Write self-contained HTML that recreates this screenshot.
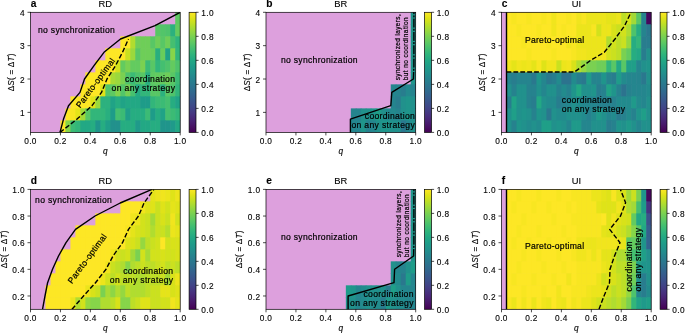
<!DOCTYPE html>
<html><head><meta charset="utf-8"><title>fig</title>
<style>
html,body{margin:0;padding:0;background:#fff;}
body{width:685px;height:333px;overflow:hidden;}
svg{display:block;font-family:"Liberation Sans",sans-serif;will-change:transform;}
text{stroke:#000;stroke-width:0.12px;stroke-linejoin:round;}
.an,.sm{stroke-width:0.2px;}
.tk{font-size:8.3px;letter-spacing:0.35px;fill:#000;}
.ti{font-size:9.4px;fill:#000;}
.lt{font-size:10.2px;font-weight:bold;fill:#000;}
.ql{font-size:8.3px;font-style:italic;fill:#000;}
.yl{font-size:8.2px;fill:#000;letter-spacing:0.2px;}
.it{font-style:italic;}
.an{font-size:8.6px;fill:#000;letter-spacing:0.25px;}
.sm{font-size:6.5px;fill:#000;}
</style></head>
<body>
<svg width="685" height="333" viewBox="0 0 685 333">
<defs><linearGradient id="vg" x1="0" y1="0" x2="0" y2="1"><stop offset="0.00" stop-color="#fde725"/><stop offset="0.05" stop-color="#dfe318"/><stop offset="0.10" stop-color="#bddf26"/><stop offset="0.15" stop-color="#9bd93c"/><stop offset="0.20" stop-color="#7ad151"/><stop offset="0.25" stop-color="#5ec962"/><stop offset="0.30" stop-color="#44bf70"/><stop offset="0.35" stop-color="#2fb47c"/><stop offset="0.40" stop-color="#22a884"/><stop offset="0.45" stop-color="#1e9c89"/><stop offset="0.50" stop-color="#21918c"/><stop offset="0.55" stop-color="#25848e"/><stop offset="0.60" stop-color="#2a788e"/><stop offset="0.65" stop-color="#2f6c8e"/><stop offset="0.70" stop-color="#355f8d"/><stop offset="0.75" stop-color="#3b528b"/><stop offset="0.80" stop-color="#414487"/><stop offset="0.85" stop-color="#463480"/><stop offset="0.90" stop-color="#482475"/><stop offset="0.95" stop-color="#471365"/><stop offset="1.00" stop-color="#440154"/></linearGradient></defs>
<g>
<rect x="30.50" y="12.30" width="149.70" height="120.10" fill="#dda0dd"/>
<rect x="175.21" y="12.30" width="4.99" height="12.61" fill="#5ec962"/>
<rect x="155.25" y="24.31" width="5.59" height="12.61" fill="#58c765"/>
<rect x="160.24" y="24.31" width="5.59" height="12.61" fill="#52c569"/>
<rect x="165.23" y="24.31" width="5.59" height="12.61" fill="#4ec36b"/>
<rect x="170.22" y="24.31" width="5.59" height="12.61" fill="#2cb17e"/>
<rect x="175.21" y="24.31" width="4.99" height="12.61" fill="#63cb5f"/>
<rect x="120.32" y="36.32" width="5.59" height="12.61" fill="#fde725"/>
<rect x="125.31" y="36.32" width="5.59" height="12.61" fill="#fde725"/>
<rect x="130.30" y="36.32" width="5.59" height="12.61" fill="#b0dd2f"/>
<rect x="135.29" y="36.32" width="5.59" height="12.61" fill="#6ece58"/>
<rect x="140.28" y="36.32" width="5.59" height="12.61" fill="#6ece58"/>
<rect x="145.27" y="36.32" width="5.59" height="12.61" fill="#6ece58"/>
<rect x="150.26" y="36.32" width="5.59" height="12.61" fill="#58c765"/>
<rect x="155.25" y="36.32" width="5.59" height="12.61" fill="#6ece58"/>
<rect x="160.24" y="36.32" width="5.59" height="12.61" fill="#58c765"/>
<rect x="165.23" y="36.32" width="5.59" height="12.61" fill="#6ece58"/>
<rect x="170.22" y="36.32" width="5.59" height="12.61" fill="#44bf70"/>
<rect x="175.21" y="36.32" width="4.99" height="12.61" fill="#2fb47c"/>
<rect x="105.35" y="48.33" width="5.59" height="12.61" fill="#fde725"/>
<rect x="110.34" y="48.33" width="5.59" height="12.61" fill="#fde725"/>
<rect x="115.33" y="48.33" width="5.59" height="12.61" fill="#fde725"/>
<rect x="120.32" y="48.33" width="5.59" height="12.61" fill="#fde725"/>
<rect x="125.31" y="48.33" width="5.59" height="12.61" fill="#cae11f"/>
<rect x="130.30" y="48.33" width="5.59" height="12.61" fill="#9bd93c"/>
<rect x="135.29" y="48.33" width="5.59" height="12.61" fill="#58c765"/>
<rect x="140.28" y="48.33" width="5.59" height="12.61" fill="#6ece58"/>
<rect x="145.27" y="48.33" width="5.59" height="12.61" fill="#6ece58"/>
<rect x="150.26" y="48.33" width="5.59" height="12.61" fill="#69cd5b"/>
<rect x="155.25" y="48.33" width="5.59" height="12.61" fill="#29af7f"/>
<rect x="160.24" y="48.33" width="5.59" height="12.61" fill="#69cd5b"/>
<rect x="165.23" y="48.33" width="5.59" height="12.61" fill="#20a386"/>
<rect x="170.22" y="48.33" width="5.59" height="12.61" fill="#86d549"/>
<rect x="175.21" y="48.33" width="4.99" height="12.61" fill="#32b67a"/>
<rect x="95.37" y="60.34" width="5.59" height="12.61" fill="#fde725"/>
<rect x="100.36" y="60.34" width="5.59" height="12.61" fill="#fde725"/>
<rect x="105.35" y="60.34" width="5.59" height="12.61" fill="#fde725"/>
<rect x="110.34" y="60.34" width="5.59" height="12.61" fill="#fde725"/>
<rect x="115.33" y="60.34" width="5.59" height="12.61" fill="#d2e21b"/>
<rect x="120.32" y="60.34" width="5.59" height="12.61" fill="#63cb5f"/>
<rect x="125.31" y="60.34" width="5.59" height="12.61" fill="#7ad151"/>
<rect x="130.30" y="60.34" width="5.59" height="12.61" fill="#63cb5f"/>
<rect x="135.29" y="60.34" width="5.59" height="12.61" fill="#63cb5f"/>
<rect x="140.28" y="60.34" width="5.59" height="12.61" fill="#7ad151"/>
<rect x="145.27" y="60.34" width="5.59" height="12.61" fill="#3bbb75"/>
<rect x="150.26" y="60.34" width="5.59" height="12.61" fill="#58c765"/>
<rect x="155.25" y="60.34" width="5.59" height="12.61" fill="#32b67a"/>
<rect x="160.24" y="60.34" width="5.59" height="12.61" fill="#44bf70"/>
<rect x="165.23" y="60.34" width="5.59" height="12.61" fill="#4ec36b"/>
<rect x="170.22" y="60.34" width="5.59" height="12.61" fill="#63cb5f"/>
<rect x="175.21" y="60.34" width="4.99" height="12.61" fill="#4ec36b"/>
<rect x="85.39" y="72.35" width="5.59" height="12.61" fill="#fde725"/>
<rect x="90.38" y="72.35" width="5.59" height="12.61" fill="#fde725"/>
<rect x="95.37" y="72.35" width="5.59" height="12.61" fill="#fde725"/>
<rect x="100.36" y="72.35" width="5.59" height="12.61" fill="#fde725"/>
<rect x="105.35" y="72.35" width="5.59" height="12.61" fill="#fde725"/>
<rect x="110.34" y="72.35" width="5.59" height="12.61" fill="#a8db34"/>
<rect x="115.33" y="72.35" width="5.59" height="12.61" fill="#9bd93c"/>
<rect x="120.32" y="72.35" width="5.59" height="12.61" fill="#7ad151"/>
<rect x="125.31" y="72.35" width="5.59" height="12.61" fill="#4ec36b"/>
<rect x="130.30" y="72.35" width="5.59" height="12.61" fill="#3bbb75"/>
<rect x="135.29" y="72.35" width="5.59" height="12.61" fill="#4ec36b"/>
<rect x="140.28" y="72.35" width="5.59" height="12.61" fill="#58c765"/>
<rect x="145.27" y="72.35" width="5.59" height="12.61" fill="#29af7f"/>
<rect x="150.26" y="72.35" width="5.59" height="12.61" fill="#5ec962"/>
<rect x="155.25" y="72.35" width="5.59" height="12.61" fill="#63cb5f"/>
<rect x="160.24" y="72.35" width="5.59" height="12.61" fill="#63cb5f"/>
<rect x="165.23" y="72.35" width="5.59" height="12.61" fill="#6ece58"/>
<rect x="170.22" y="72.35" width="5.59" height="12.61" fill="#58c765"/>
<rect x="175.21" y="72.35" width="4.99" height="12.61" fill="#3bbb75"/>
<rect x="80.40" y="84.36" width="5.59" height="12.61" fill="#fde725"/>
<rect x="85.39" y="84.36" width="5.59" height="12.61" fill="#fde725"/>
<rect x="90.38" y="84.36" width="5.59" height="12.61" fill="#fde725"/>
<rect x="95.37" y="84.36" width="5.59" height="12.61" fill="#fde725"/>
<rect x="100.36" y="84.36" width="5.59" height="12.61" fill="#dfe318"/>
<rect x="105.35" y="84.36" width="5.59" height="12.61" fill="#52c569"/>
<rect x="110.34" y="84.36" width="5.59" height="12.61" fill="#5ec962"/>
<rect x="115.33" y="84.36" width="5.59" height="12.61" fill="#81d34d"/>
<rect x="120.32" y="84.36" width="5.59" height="12.61" fill="#52c569"/>
<rect x="125.31" y="84.36" width="5.59" height="12.61" fill="#75d054"/>
<rect x="130.30" y="84.36" width="5.59" height="12.61" fill="#48c16e"/>
<rect x="135.29" y="84.36" width="5.59" height="12.61" fill="#25ab82"/>
<rect x="140.28" y="84.36" width="5.59" height="12.61" fill="#32b67a"/>
<rect x="145.27" y="84.36" width="5.59" height="12.61" fill="#32b67a"/>
<rect x="150.26" y="84.36" width="5.59" height="12.61" fill="#58c765"/>
<rect x="155.25" y="84.36" width="5.59" height="12.61" fill="#58c765"/>
<rect x="160.24" y="84.36" width="5.59" height="12.61" fill="#2cb17e"/>
<rect x="165.23" y="84.36" width="5.59" height="12.61" fill="#58c765"/>
<rect x="170.22" y="84.36" width="5.59" height="12.61" fill="#4ec36b"/>
<rect x="175.21" y="84.36" width="4.99" height="12.61" fill="#32b67a"/>
<rect x="70.42" y="96.37" width="5.59" height="12.61" fill="#fde725"/>
<rect x="75.41" y="96.37" width="5.59" height="12.61" fill="#fde725"/>
<rect x="80.40" y="96.37" width="5.59" height="12.61" fill="#fde725"/>
<rect x="85.39" y="96.37" width="5.59" height="12.61" fill="#fde725"/>
<rect x="90.38" y="96.37" width="5.59" height="12.61" fill="#dfe318"/>
<rect x="95.37" y="96.37" width="5.59" height="12.61" fill="#9bd93c"/>
<rect x="100.36" y="96.37" width="5.59" height="12.61" fill="#2cb17e"/>
<rect x="105.35" y="96.37" width="5.59" height="12.61" fill="#2cb17e"/>
<rect x="110.34" y="96.37" width="5.59" height="12.61" fill="#20a386"/>
<rect x="115.33" y="96.37" width="5.59" height="12.61" fill="#26ad81"/>
<rect x="120.32" y="96.37" width="5.59" height="12.61" fill="#20a386"/>
<rect x="125.31" y="96.37" width="5.59" height="12.61" fill="#22a884"/>
<rect x="130.30" y="96.37" width="5.59" height="12.61" fill="#22a884"/>
<rect x="135.29" y="96.37" width="5.59" height="12.61" fill="#22a884"/>
<rect x="140.28" y="96.37" width="5.59" height="12.61" fill="#1e9c89"/>
<rect x="145.27" y="96.37" width="5.59" height="12.61" fill="#1e9c89"/>
<rect x="150.26" y="96.37" width="5.59" height="12.61" fill="#32b67a"/>
<rect x="155.25" y="96.37" width="5.59" height="12.61" fill="#3bbb75"/>
<rect x="160.24" y="96.37" width="5.59" height="12.61" fill="#3bbb75"/>
<rect x="165.23" y="96.37" width="5.59" height="12.61" fill="#44bf70"/>
<rect x="170.22" y="96.37" width="5.59" height="12.61" fill="#26ad81"/>
<rect x="175.21" y="96.37" width="4.99" height="12.61" fill="#20a386"/>
<rect x="65.43" y="108.38" width="5.59" height="12.61" fill="#fde725"/>
<rect x="70.42" y="108.38" width="5.59" height="12.61" fill="#f8e621"/>
<rect x="75.41" y="108.38" width="5.59" height="12.61" fill="#e5e419"/>
<rect x="80.40" y="108.38" width="5.59" height="12.61" fill="#a2da37"/>
<rect x="85.39" y="108.38" width="5.59" height="12.61" fill="#58c765"/>
<rect x="90.38" y="108.38" width="5.59" height="12.61" fill="#32b67a"/>
<rect x="95.37" y="108.38" width="5.59" height="12.61" fill="#32b67a"/>
<rect x="100.36" y="108.38" width="5.59" height="12.61" fill="#32b67a"/>
<rect x="105.35" y="108.38" width="5.59" height="12.61" fill="#29af7f"/>
<rect x="110.34" y="108.38" width="5.59" height="12.61" fill="#1e9c89"/>
<rect x="115.33" y="108.38" width="5.59" height="12.61" fill="#44bf70"/>
<rect x="120.32" y="108.38" width="5.59" height="12.61" fill="#3bbb75"/>
<rect x="125.31" y="108.38" width="5.59" height="12.61" fill="#1f9f88"/>
<rect x="130.30" y="108.38" width="5.59" height="12.61" fill="#26ad81"/>
<rect x="135.29" y="108.38" width="5.59" height="12.61" fill="#26ad81"/>
<rect x="140.28" y="108.38" width="5.59" height="12.61" fill="#26ad81"/>
<rect x="145.27" y="108.38" width="5.59" height="12.61" fill="#3bbb75"/>
<rect x="150.26" y="108.38" width="5.59" height="12.61" fill="#1e9c89"/>
<rect x="155.25" y="108.38" width="5.59" height="12.61" fill="#26ad81"/>
<rect x="160.24" y="108.38" width="5.59" height="12.61" fill="#20a386"/>
<rect x="165.23" y="108.38" width="5.59" height="12.61" fill="#44bf70"/>
<rect x="170.22" y="108.38" width="5.59" height="12.61" fill="#3bbb75"/>
<rect x="175.21" y="108.38" width="4.99" height="12.61" fill="#32b67a"/>
<rect x="60.44" y="120.39" width="5.59" height="12.01" fill="#fde725"/>
<rect x="65.43" y="120.39" width="5.59" height="12.01" fill="#86d549"/>
<rect x="70.42" y="120.39" width="5.59" height="12.01" fill="#3bbb75"/>
<rect x="75.41" y="120.39" width="5.59" height="12.01" fill="#32b67a"/>
<rect x="80.40" y="120.39" width="5.59" height="12.01" fill="#22a884"/>
<rect x="85.39" y="120.39" width="5.59" height="12.01" fill="#22a884"/>
<rect x="90.38" y="120.39" width="5.59" height="12.01" fill="#26ad81"/>
<rect x="95.37" y="120.39" width="5.59" height="12.01" fill="#1f958b"/>
<rect x="100.36" y="120.39" width="5.59" height="12.01" fill="#26ad81"/>
<rect x="105.35" y="120.39" width="5.59" height="12.01" fill="#1f9f88"/>
<rect x="110.34" y="120.39" width="5.59" height="12.01" fill="#21918c"/>
<rect x="115.33" y="120.39" width="5.59" height="12.01" fill="#21918c"/>
<rect x="120.32" y="120.39" width="5.59" height="12.01" fill="#26ad81"/>
<rect x="125.31" y="120.39" width="5.59" height="12.01" fill="#26ad81"/>
<rect x="130.30" y="120.39" width="5.59" height="12.01" fill="#26ad81"/>
<rect x="135.29" y="120.39" width="5.59" height="12.01" fill="#1f9a8a"/>
<rect x="140.28" y="120.39" width="5.59" height="12.01" fill="#22a884"/>
<rect x="145.27" y="120.39" width="5.59" height="12.01" fill="#22a884"/>
<rect x="150.26" y="120.39" width="5.59" height="12.01" fill="#26ad81"/>
<rect x="155.25" y="120.39" width="5.59" height="12.01" fill="#26ad81"/>
<rect x="160.24" y="120.39" width="5.59" height="12.01" fill="#1f958b"/>
<rect x="165.23" y="120.39" width="5.59" height="12.01" fill="#1f958b"/>
<rect x="170.22" y="120.39" width="5.59" height="12.01" fill="#1f9a8a"/>
<rect x="175.21" y="120.39" width="4.99" height="12.01" fill="#22a884"/>
<clipPath id="clip0"><rect x="30.50" y="12.30" width="149.70" height="120.10"/></clipPath>
<polyline points="60.0,132.4 63.5,119.1 68.5,105.7 80.0,92.4 84.5,79.0 94.0,65.7 104.0,52.3 120.5,39.0 155.0,25.6 180.2,12.3" fill="none" stroke="#000" stroke-width="1.4" stroke-linejoin="round" clip-path="url(#clip0)"/>
<polyline points="60.0,132.4 77.0,119.1 92.0,105.7 101.5,92.4 107.0,79.0 115.5,65.7 122.5,52.3 128.5,39.0" fill="none" stroke="#000" stroke-width="1.4" stroke-dasharray="4.8 2.1" stroke-linejoin="round" clip-path="url(#clip0)"/>
<rect x="30.50" y="12.30" width="149.70" height="120.10" fill="none" stroke="#000" stroke-width="0.7"/>
<line x1="30.50" y1="132.40" x2="30.50" y2="135.40" stroke="#000" stroke-width="0.7"/>
<text x="30.50" y="144.00" class="tk" text-anchor="middle">0.0</text>
<line x1="60.44" y1="132.40" x2="60.44" y2="135.40" stroke="#000" stroke-width="0.7"/>
<text x="60.44" y="144.00" class="tk" text-anchor="middle">0.2</text>
<line x1="90.38" y1="132.40" x2="90.38" y2="135.40" stroke="#000" stroke-width="0.7"/>
<text x="90.38" y="144.00" class="tk" text-anchor="middle">0.4</text>
<line x1="120.32" y1="132.40" x2="120.32" y2="135.40" stroke="#000" stroke-width="0.7"/>
<text x="120.32" y="144.00" class="tk" text-anchor="middle">0.6</text>
<line x1="150.26" y1="132.40" x2="150.26" y2="135.40" stroke="#000" stroke-width="0.7"/>
<text x="150.26" y="144.00" class="tk" text-anchor="middle">0.8</text>
<line x1="180.20" y1="132.40" x2="180.20" y2="135.40" stroke="#000" stroke-width="0.7"/>
<text x="180.20" y="144.00" class="tk" text-anchor="middle">1.0</text>
<line x1="27.50" y1="112.38" x2="30.50" y2="112.38" stroke="#000" stroke-width="0.7"/>
<text x="24.90" y="115.98" class="tk" text-anchor="end">1</text>
<line x1="27.50" y1="79.02" x2="30.50" y2="79.02" stroke="#000" stroke-width="0.7"/>
<text x="24.90" y="82.62" class="tk" text-anchor="end">2</text>
<line x1="27.50" y1="45.66" x2="30.50" y2="45.66" stroke="#000" stroke-width="0.7"/>
<text x="24.90" y="49.26" class="tk" text-anchor="end">3</text>
<line x1="27.50" y1="12.30" x2="30.50" y2="12.30" stroke="#000" stroke-width="0.7"/>
<text x="24.90" y="15.90" class="tk" text-anchor="end">4</text>
<text x="105.35" y="154.10" class="ql" text-anchor="middle">q</text>
<text transform="translate(14.00,72.35) rotate(-90)" class="yl" text-anchor="middle">Δ<tspan class="it">S</tspan>( = Δ<tspan class="it">T</tspan>)</text>
<text x="105.35" y="7.20" class="ti" text-anchor="middle">RD</text>
<text x="30.80" y="7.30" class="lt">a</text>
<text x="38.0" y="32.5" class="an" text-anchor="start" textLength="77.0" lengthAdjust="spacing">no synchronization</text>
<text x="175.2" y="81.5" class="an" text-anchor="end" textLength="50.2" lengthAdjust="spacing">coordination</text>
<text x="175.2" y="90.8" class="an" text-anchor="end" textLength="63.6" lengthAdjust="spacing">on any strategy</text>
<text transform="translate(97.8,84.6) rotate(-53.5)" class="an" text-anchor="middle" textLength="59.4" lengthAdjust="spacing">Pareto-optimal</text>
<rect x="189.10" y="12.30" width="6.9" height="120.10" fill="url(#vg)" stroke="#000" stroke-width="0.7"/>
<line x1="196.00" y1="132.40" x2="198.60" y2="132.40" stroke="#000" stroke-width="0.7"/>
<text x="201.30" y="136.10" class="tk">0.0</text>
<line x1="196.00" y1="108.38" x2="198.60" y2="108.38" stroke="#000" stroke-width="0.7"/>
<text x="201.30" y="112.08" class="tk">0.2</text>
<line x1="196.00" y1="84.36" x2="198.60" y2="84.36" stroke="#000" stroke-width="0.7"/>
<text x="201.30" y="88.06" class="tk">0.4</text>
<line x1="196.00" y1="60.34" x2="198.60" y2="60.34" stroke="#000" stroke-width="0.7"/>
<text x="201.30" y="64.04" class="tk">0.6</text>
<line x1="196.00" y1="36.32" x2="198.60" y2="36.32" stroke="#000" stroke-width="0.7"/>
<text x="201.30" y="40.02" class="tk">0.8</text>
<line x1="196.00" y1="12.30" x2="198.60" y2="12.30" stroke="#000" stroke-width="0.7"/>
<text x="201.30" y="16.00" class="tk">1.0</text>
</g>
<g>
<rect x="266.00" y="12.30" width="149.70" height="120.10" fill="#dda0dd"/>
<rect x="410.71" y="12.30" width="4.99" height="12.61" fill="#1f958b"/>
<rect x="410.71" y="24.31" width="4.99" height="12.61" fill="#1f958b"/>
<rect x="410.71" y="36.32" width="4.99" height="12.61" fill="#1f958b"/>
<rect x="410.71" y="48.33" width="4.99" height="12.61" fill="#1f958b"/>
<rect x="410.71" y="60.34" width="4.99" height="12.61" fill="#1f958b"/>
<rect x="410.71" y="72.35" width="4.99" height="12.61" fill="#1f958b"/>
<rect x="390.75" y="84.36" width="5.59" height="12.61" fill="#24868e"/>
<rect x="395.74" y="84.36" width="5.59" height="12.61" fill="#25848e"/>
<rect x="400.73" y="84.36" width="5.59" height="12.61" fill="#287d8e"/>
<rect x="405.72" y="84.36" width="5.59" height="12.61" fill="#23898e"/>
<rect x="410.71" y="84.36" width="4.99" height="12.61" fill="#25848e"/>
<rect x="390.75" y="96.37" width="5.59" height="12.61" fill="#25848e"/>
<rect x="395.74" y="96.37" width="5.59" height="12.61" fill="#287d8e"/>
<rect x="400.73" y="96.37" width="5.59" height="12.61" fill="#21918c"/>
<rect x="405.72" y="96.37" width="5.59" height="12.61" fill="#1f958b"/>
<rect x="410.71" y="96.37" width="4.99" height="12.61" fill="#21918c"/>
<rect x="350.83" y="108.38" width="5.59" height="12.61" fill="#25848e"/>
<rect x="355.82" y="108.38" width="5.59" height="12.61" fill="#25848e"/>
<rect x="360.81" y="108.38" width="5.59" height="12.61" fill="#21918c"/>
<rect x="365.80" y="108.38" width="5.59" height="12.61" fill="#21918c"/>
<rect x="370.79" y="108.38" width="5.59" height="12.61" fill="#1f958b"/>
<rect x="375.78" y="108.38" width="5.59" height="12.61" fill="#1f9f88"/>
<rect x="380.77" y="108.38" width="5.59" height="12.61" fill="#21918c"/>
<rect x="385.76" y="108.38" width="5.59" height="12.61" fill="#23898e"/>
<rect x="390.75" y="108.38" width="5.59" height="12.61" fill="#23898e"/>
<rect x="395.74" y="108.38" width="5.59" height="12.61" fill="#25848e"/>
<rect x="400.73" y="108.38" width="5.59" height="12.61" fill="#21918c"/>
<rect x="405.72" y="108.38" width="5.59" height="12.61" fill="#1f958b"/>
<rect x="410.71" y="108.38" width="4.99" height="12.61" fill="#21918c"/>
<rect x="350.83" y="120.39" width="5.59" height="12.01" fill="#24868e"/>
<rect x="355.82" y="120.39" width="5.59" height="12.01" fill="#24868e"/>
<rect x="360.81" y="120.39" width="5.59" height="12.01" fill="#1f958b"/>
<rect x="365.80" y="120.39" width="5.59" height="12.01" fill="#26828e"/>
<rect x="370.79" y="120.39" width="5.59" height="12.01" fill="#24868e"/>
<rect x="375.78" y="120.39" width="5.59" height="12.01" fill="#21918c"/>
<rect x="380.77" y="120.39" width="5.59" height="12.01" fill="#1f958b"/>
<rect x="385.76" y="120.39" width="5.59" height="12.01" fill="#1f958b"/>
<rect x="390.75" y="120.39" width="5.59" height="12.01" fill="#21918c"/>
<rect x="395.74" y="120.39" width="5.59" height="12.01" fill="#21918c"/>
<rect x="400.73" y="120.39" width="5.59" height="12.01" fill="#2a788e"/>
<rect x="405.72" y="120.39" width="5.59" height="12.01" fill="#24868e"/>
<rect x="410.71" y="120.39" width="4.99" height="12.01" fill="#21918c"/>
<clipPath id="clip1"><rect x="266.00" y="12.30" width="149.70" height="120.10"/></clipPath>
<polyline points="350.4,133.0 350.4,119.1 390.8,105.7 391.8,92.4 413.4,79.0 413.9,65.7 413.9,12.0" fill="none" stroke="#000" stroke-width="1.4" stroke-linejoin="round" clip-path="url(#clip1)"/>
<rect x="266.00" y="12.30" width="149.70" height="120.10" fill="none" stroke="#000" stroke-width="0.7"/>
<line x1="266.00" y1="132.40" x2="266.00" y2="135.40" stroke="#000" stroke-width="0.7"/>
<text x="266.00" y="144.00" class="tk" text-anchor="middle">0.0</text>
<line x1="295.94" y1="132.40" x2="295.94" y2="135.40" stroke="#000" stroke-width="0.7"/>
<text x="295.94" y="144.00" class="tk" text-anchor="middle">0.2</text>
<line x1="325.88" y1="132.40" x2="325.88" y2="135.40" stroke="#000" stroke-width="0.7"/>
<text x="325.88" y="144.00" class="tk" text-anchor="middle">0.4</text>
<line x1="355.82" y1="132.40" x2="355.82" y2="135.40" stroke="#000" stroke-width="0.7"/>
<text x="355.82" y="144.00" class="tk" text-anchor="middle">0.6</text>
<line x1="385.76" y1="132.40" x2="385.76" y2="135.40" stroke="#000" stroke-width="0.7"/>
<text x="385.76" y="144.00" class="tk" text-anchor="middle">0.8</text>
<line x1="415.70" y1="132.40" x2="415.70" y2="135.40" stroke="#000" stroke-width="0.7"/>
<text x="415.70" y="144.00" class="tk" text-anchor="middle">1.0</text>
<line x1="263.00" y1="112.38" x2="266.00" y2="112.38" stroke="#000" stroke-width="0.7"/>
<text x="260.40" y="115.98" class="tk" text-anchor="end">1</text>
<line x1="263.00" y1="79.02" x2="266.00" y2="79.02" stroke="#000" stroke-width="0.7"/>
<text x="260.40" y="82.62" class="tk" text-anchor="end">2</text>
<line x1="263.00" y1="45.66" x2="266.00" y2="45.66" stroke="#000" stroke-width="0.7"/>
<text x="260.40" y="49.26" class="tk" text-anchor="end">3</text>
<line x1="263.00" y1="12.30" x2="266.00" y2="12.30" stroke="#000" stroke-width="0.7"/>
<text x="260.40" y="15.90" class="tk" text-anchor="end">4</text>
<text x="340.85" y="154.10" class="ql" text-anchor="middle">q</text>
<text transform="translate(249.50,72.35) rotate(-90)" class="yl" text-anchor="middle">Δ<tspan class="it">S</tspan>( = Δ<tspan class="it">T</tspan>)</text>
<text x="340.85" y="7.20" class="ti" text-anchor="middle">BR</text>
<text x="266.30" y="7.30" class="lt">b</text>
<text x="280.9" y="62.5" class="an" text-anchor="start" textLength="77.0" lengthAdjust="spacing">no synchronization</text>
<text x="415.0" y="119.4" class="an" text-anchor="end" textLength="50.2" lengthAdjust="spacing">coordination</text>
<text x="415.0" y="128.3" class="an" text-anchor="end" textLength="63.6" lengthAdjust="spacing">on any strategy</text>
<text transform="translate(400.4,80.3) rotate(-90)" class="sm" text-anchor="start" textLength="66.0" lengthAdjust="spacing">synchronized layers,</text>
<text transform="translate(407.5,80.3) rotate(-90)" class="sm" text-anchor="start" textLength="63.0" lengthAdjust="spacing">but no coordination</text>
<rect x="412.9" y="14.20" width="2.1" height="1.2" fill="#1f968b"/>
<rect x="412.9" y="17.40" width="2.1" height="1.2" fill="#1f968b"/>
<rect x="412.9" y="27.54" width="2.1" height="1.2" fill="#1f968b"/>
<rect x="412.9" y="30.74" width="2.1" height="1.2" fill="#1f968b"/>
<rect x="412.9" y="40.88" width="2.1" height="1.2" fill="#1f968b"/>
<rect x="412.9" y="44.08" width="2.1" height="1.2" fill="#1f968b"/>
<rect x="412.9" y="54.22" width="2.1" height="1.2" fill="#1f968b"/>
<rect x="412.9" y="57.42" width="2.1" height="1.2" fill="#1f968b"/>
<rect x="412.9" y="67.56" width="2.1" height="1.2" fill="#1f968b"/>
<rect x="412.9" y="70.76" width="2.1" height="1.2" fill="#1f968b"/>
<rect x="424.60" y="12.30" width="6.9" height="120.10" fill="url(#vg)" stroke="#000" stroke-width="0.7"/>
<line x1="431.50" y1="132.40" x2="434.10" y2="132.40" stroke="#000" stroke-width="0.7"/>
<text x="436.80" y="136.10" class="tk">0.0</text>
<line x1="431.50" y1="108.38" x2="434.10" y2="108.38" stroke="#000" stroke-width="0.7"/>
<text x="436.80" y="112.08" class="tk">0.2</text>
<line x1="431.50" y1="84.36" x2="434.10" y2="84.36" stroke="#000" stroke-width="0.7"/>
<text x="436.80" y="88.06" class="tk">0.4</text>
<line x1="431.50" y1="60.34" x2="434.10" y2="60.34" stroke="#000" stroke-width="0.7"/>
<text x="436.80" y="64.04" class="tk">0.6</text>
<line x1="431.50" y1="36.32" x2="434.10" y2="36.32" stroke="#000" stroke-width="0.7"/>
<text x="436.80" y="40.02" class="tk">0.8</text>
<line x1="431.50" y1="12.30" x2="434.10" y2="12.30" stroke="#000" stroke-width="0.7"/>
<text x="436.80" y="16.00" class="tk">1.0</text>
</g>
<g>
<rect x="501.50" y="12.30" width="149.70" height="120.10" fill="#dda0dd"/>
<rect x="506.49" y="12.30" width="5.59" height="12.61" fill="#fde725"/>
<rect x="511.48" y="12.30" width="5.59" height="12.61" fill="#f8e621"/>
<rect x="516.47" y="12.30" width="5.59" height="12.61" fill="#fde725"/>
<rect x="521.46" y="12.30" width="5.59" height="12.61" fill="#fde725"/>
<rect x="526.45" y="12.30" width="5.59" height="12.61" fill="#f8e621"/>
<rect x="531.44" y="12.30" width="5.59" height="12.61" fill="#fde725"/>
<rect x="536.43" y="12.30" width="5.59" height="12.61" fill="#fde725"/>
<rect x="541.42" y="12.30" width="5.59" height="12.61" fill="#f8e621"/>
<rect x="546.41" y="12.30" width="5.59" height="12.61" fill="#fde725"/>
<rect x="551.40" y="12.30" width="5.59" height="12.61" fill="#f1e51d"/>
<rect x="556.39" y="12.30" width="5.59" height="12.61" fill="#fde725"/>
<rect x="561.38" y="12.30" width="5.59" height="12.61" fill="#fde725"/>
<rect x="566.37" y="12.30" width="5.59" height="12.61" fill="#f8e621"/>
<rect x="571.36" y="12.30" width="5.59" height="12.61" fill="#fde725"/>
<rect x="576.35" y="12.30" width="5.59" height="12.61" fill="#f1e51d"/>
<rect x="581.34" y="12.30" width="5.59" height="12.61" fill="#f8e621"/>
<rect x="586.33" y="12.30" width="5.59" height="12.61" fill="#ece51b"/>
<rect x="591.32" y="12.30" width="5.59" height="12.61" fill="#ece51b"/>
<rect x="596.31" y="12.30" width="5.59" height="12.61" fill="#ece51b"/>
<rect x="601.30" y="12.30" width="5.59" height="12.61" fill="#ece51b"/>
<rect x="606.29" y="12.30" width="5.59" height="12.61" fill="#e5e419"/>
<rect x="611.28" y="12.30" width="5.59" height="12.61" fill="#e5e419"/>
<rect x="616.27" y="12.30" width="5.59" height="12.61" fill="#ece51b"/>
<rect x="621.26" y="12.30" width="5.59" height="12.61" fill="#bddf26"/>
<rect x="626.25" y="12.30" width="5.59" height="12.61" fill="#d2e21b"/>
<rect x="631.24" y="12.30" width="5.59" height="12.61" fill="#a2da37"/>
<rect x="636.23" y="12.30" width="5.59" height="12.61" fill="#58c765"/>
<rect x="641.22" y="12.30" width="5.59" height="12.61" fill="#25848e"/>
<rect x="646.21" y="12.30" width="4.99" height="12.61" fill="#46085c"/>
<rect x="506.49" y="24.31" width="5.59" height="12.61" fill="#fde725"/>
<rect x="511.48" y="24.31" width="5.59" height="12.61" fill="#fde725"/>
<rect x="516.47" y="24.31" width="5.59" height="12.61" fill="#f8e621"/>
<rect x="521.46" y="24.31" width="5.59" height="12.61" fill="#fde725"/>
<rect x="526.45" y="24.31" width="5.59" height="12.61" fill="#fde725"/>
<rect x="531.44" y="24.31" width="5.59" height="12.61" fill="#fde725"/>
<rect x="536.43" y="24.31" width="5.59" height="12.61" fill="#f8e621"/>
<rect x="541.42" y="24.31" width="5.59" height="12.61" fill="#fde725"/>
<rect x="546.41" y="24.31" width="5.59" height="12.61" fill="#fde725"/>
<rect x="551.40" y="24.31" width="5.59" height="12.61" fill="#f1e51d"/>
<rect x="556.39" y="24.31" width="5.59" height="12.61" fill="#fde725"/>
<rect x="561.38" y="24.31" width="5.59" height="12.61" fill="#f8e621"/>
<rect x="566.37" y="24.31" width="5.59" height="12.61" fill="#fde725"/>
<rect x="571.36" y="24.31" width="5.59" height="12.61" fill="#fde725"/>
<rect x="576.35" y="24.31" width="5.59" height="12.61" fill="#ece51b"/>
<rect x="581.34" y="24.31" width="5.59" height="12.61" fill="#ece51b"/>
<rect x="586.33" y="24.31" width="5.59" height="12.61" fill="#ece51b"/>
<rect x="591.32" y="24.31" width="5.59" height="12.61" fill="#f8e621"/>
<rect x="596.31" y="24.31" width="5.59" height="12.61" fill="#d2e21b"/>
<rect x="601.30" y="24.31" width="5.59" height="12.61" fill="#ece51b"/>
<rect x="606.29" y="24.31" width="5.59" height="12.61" fill="#ece51b"/>
<rect x="611.28" y="24.31" width="5.59" height="12.61" fill="#d8e219"/>
<rect x="616.27" y="24.31" width="5.59" height="12.61" fill="#cae11f"/>
<rect x="621.26" y="24.31" width="5.59" height="12.61" fill="#d2e21b"/>
<rect x="626.25" y="24.31" width="5.59" height="12.61" fill="#b0dd2f"/>
<rect x="631.24" y="24.31" width="5.59" height="12.61" fill="#4ec36b"/>
<rect x="636.23" y="24.31" width="5.59" height="12.61" fill="#26ad81"/>
<rect x="641.22" y="24.31" width="5.59" height="12.61" fill="#25848e"/>
<rect x="646.21" y="24.31" width="4.99" height="12.61" fill="#2a788e"/>
<rect x="506.49" y="36.32" width="5.59" height="12.61" fill="#fde725"/>
<rect x="511.48" y="36.32" width="5.59" height="12.61" fill="#fde725"/>
<rect x="516.47" y="36.32" width="5.59" height="12.61" fill="#fde725"/>
<rect x="521.46" y="36.32" width="5.59" height="12.61" fill="#f8e621"/>
<rect x="526.45" y="36.32" width="5.59" height="12.61" fill="#fde725"/>
<rect x="531.44" y="36.32" width="5.59" height="12.61" fill="#fde725"/>
<rect x="536.43" y="36.32" width="5.59" height="12.61" fill="#fde725"/>
<rect x="541.42" y="36.32" width="5.59" height="12.61" fill="#fde725"/>
<rect x="546.41" y="36.32" width="5.59" height="12.61" fill="#f8e621"/>
<rect x="551.40" y="36.32" width="5.59" height="12.61" fill="#fde725"/>
<rect x="556.39" y="36.32" width="5.59" height="12.61" fill="#fde725"/>
<rect x="561.38" y="36.32" width="5.59" height="12.61" fill="#fde725"/>
<rect x="566.37" y="36.32" width="5.59" height="12.61" fill="#f1e51d"/>
<rect x="571.36" y="36.32" width="5.59" height="12.61" fill="#f8e621"/>
<rect x="576.35" y="36.32" width="5.59" height="12.61" fill="#ece51b"/>
<rect x="581.34" y="36.32" width="5.59" height="12.61" fill="#ece51b"/>
<rect x="586.33" y="36.32" width="5.59" height="12.61" fill="#ece51b"/>
<rect x="591.32" y="36.32" width="5.59" height="12.61" fill="#ece51b"/>
<rect x="596.31" y="36.32" width="5.59" height="12.61" fill="#ece51b"/>
<rect x="601.30" y="36.32" width="5.59" height="12.61" fill="#ece51b"/>
<rect x="606.29" y="36.32" width="5.59" height="12.61" fill="#b0dd2f"/>
<rect x="611.28" y="36.32" width="5.59" height="12.61" fill="#d2e21b"/>
<rect x="616.27" y="36.32" width="5.59" height="12.61" fill="#bddf26"/>
<rect x="621.26" y="36.32" width="5.59" height="12.61" fill="#cae11f"/>
<rect x="626.25" y="36.32" width="5.59" height="12.61" fill="#95d840"/>
<rect x="631.24" y="36.32" width="5.59" height="12.61" fill="#26ad81"/>
<rect x="636.23" y="36.32" width="5.59" height="12.61" fill="#32b67a"/>
<rect x="641.22" y="36.32" width="5.59" height="12.61" fill="#287d8e"/>
<rect x="646.21" y="36.32" width="4.99" height="12.61" fill="#287d8e"/>
<rect x="506.49" y="48.33" width="5.59" height="12.61" fill="#fde725"/>
<rect x="511.48" y="48.33" width="5.59" height="12.61" fill="#fde725"/>
<rect x="516.47" y="48.33" width="5.59" height="12.61" fill="#fde725"/>
<rect x="521.46" y="48.33" width="5.59" height="12.61" fill="#fde725"/>
<rect x="526.45" y="48.33" width="5.59" height="12.61" fill="#f8e621"/>
<rect x="531.44" y="48.33" width="5.59" height="12.61" fill="#fde725"/>
<rect x="536.43" y="48.33" width="5.59" height="12.61" fill="#fde725"/>
<rect x="541.42" y="48.33" width="5.59" height="12.61" fill="#fde725"/>
<rect x="546.41" y="48.33" width="5.59" height="12.61" fill="#fde725"/>
<rect x="551.40" y="48.33" width="5.59" height="12.61" fill="#f8e621"/>
<rect x="556.39" y="48.33" width="5.59" height="12.61" fill="#fde725"/>
<rect x="561.38" y="48.33" width="5.59" height="12.61" fill="#fde725"/>
<rect x="566.37" y="48.33" width="5.59" height="12.61" fill="#fde725"/>
<rect x="571.36" y="48.33" width="5.59" height="12.61" fill="#f8e621"/>
<rect x="576.35" y="48.33" width="5.59" height="12.61" fill="#f1e51d"/>
<rect x="581.34" y="48.33" width="5.59" height="12.61" fill="#f1e51d"/>
<rect x="586.33" y="48.33" width="5.59" height="12.61" fill="#ece51b"/>
<rect x="591.32" y="48.33" width="5.59" height="12.61" fill="#ece51b"/>
<rect x="596.31" y="48.33" width="5.59" height="12.61" fill="#ece51b"/>
<rect x="601.30" y="48.33" width="5.59" height="12.61" fill="#f1e51d"/>
<rect x="606.29" y="48.33" width="5.59" height="12.61" fill="#d2e21b"/>
<rect x="611.28" y="48.33" width="5.59" height="12.61" fill="#cae11f"/>
<rect x="616.27" y="48.33" width="5.59" height="12.61" fill="#bddf26"/>
<rect x="621.26" y="48.33" width="5.59" height="12.61" fill="#7ad151"/>
<rect x="626.25" y="48.33" width="5.59" height="12.61" fill="#63cb5f"/>
<rect x="631.24" y="48.33" width="5.59" height="12.61" fill="#26ad81"/>
<rect x="636.23" y="48.33" width="5.59" height="12.61" fill="#22a884"/>
<rect x="641.22" y="48.33" width="5.59" height="12.61" fill="#287d8e"/>
<rect x="646.21" y="48.33" width="4.99" height="12.61" fill="#21918c"/>
<rect x="506.49" y="60.34" width="5.59" height="12.61" fill="#f1e51d"/>
<rect x="511.48" y="60.34" width="5.59" height="12.61" fill="#e5e419"/>
<rect x="516.47" y="60.34" width="5.59" height="12.61" fill="#f1e51d"/>
<rect x="521.46" y="60.34" width="5.59" height="12.61" fill="#ece51b"/>
<rect x="526.45" y="60.34" width="5.59" height="12.61" fill="#f1e51d"/>
<rect x="531.44" y="60.34" width="5.59" height="12.61" fill="#e5e419"/>
<rect x="536.43" y="60.34" width="5.59" height="12.61" fill="#f8e621"/>
<rect x="541.42" y="60.34" width="5.59" height="12.61" fill="#dfe318"/>
<rect x="546.41" y="60.34" width="5.59" height="12.61" fill="#f1e51d"/>
<rect x="551.40" y="60.34" width="5.59" height="12.61" fill="#f1e51d"/>
<rect x="556.39" y="60.34" width="5.59" height="12.61" fill="#cae11f"/>
<rect x="561.38" y="60.34" width="5.59" height="12.61" fill="#ece51b"/>
<rect x="566.37" y="60.34" width="5.59" height="12.61" fill="#f1e51d"/>
<rect x="571.36" y="60.34" width="5.59" height="12.61" fill="#d8e219"/>
<rect x="576.35" y="60.34" width="5.59" height="12.61" fill="#b0dd2f"/>
<rect x="581.34" y="60.34" width="5.59" height="12.61" fill="#95d840"/>
<rect x="586.33" y="60.34" width="5.59" height="12.61" fill="#7ad151"/>
<rect x="591.32" y="60.34" width="5.59" height="12.61" fill="#7ad151"/>
<rect x="596.31" y="60.34" width="5.59" height="12.61" fill="#6ece58"/>
<rect x="601.30" y="60.34" width="5.59" height="12.61" fill="#6ece58"/>
<rect x="606.29" y="60.34" width="5.59" height="12.61" fill="#32b67a"/>
<rect x="611.28" y="60.34" width="5.59" height="12.61" fill="#58c765"/>
<rect x="616.27" y="60.34" width="5.59" height="12.61" fill="#22a884"/>
<rect x="621.26" y="60.34" width="5.59" height="12.61" fill="#58c765"/>
<rect x="626.25" y="60.34" width="5.59" height="12.61" fill="#1f9f88"/>
<rect x="631.24" y="60.34" width="5.59" height="12.61" fill="#1f9f88"/>
<rect x="636.23" y="60.34" width="5.59" height="12.61" fill="#24868e"/>
<rect x="641.22" y="60.34" width="5.59" height="12.61" fill="#21918c"/>
<rect x="646.21" y="60.34" width="4.99" height="12.61" fill="#1f958b"/>
<rect x="506.49" y="72.35" width="5.59" height="12.61" fill="#25848e"/>
<rect x="511.48" y="72.35" width="5.59" height="12.61" fill="#287d8e"/>
<rect x="516.47" y="72.35" width="5.59" height="12.61" fill="#25848e"/>
<rect x="521.46" y="72.35" width="5.59" height="12.61" fill="#25848e"/>
<rect x="526.45" y="72.35" width="5.59" height="12.61" fill="#25848e"/>
<rect x="531.44" y="72.35" width="5.59" height="12.61" fill="#2a788e"/>
<rect x="536.43" y="72.35" width="5.59" height="12.61" fill="#1f958b"/>
<rect x="541.42" y="72.35" width="5.59" height="12.61" fill="#24868e"/>
<rect x="546.41" y="72.35" width="5.59" height="12.61" fill="#2a788e"/>
<rect x="551.40" y="72.35" width="5.59" height="12.61" fill="#287d8e"/>
<rect x="556.39" y="72.35" width="5.59" height="12.61" fill="#228b8d"/>
<rect x="561.38" y="72.35" width="5.59" height="12.61" fill="#2c738e"/>
<rect x="566.37" y="72.35" width="5.59" height="12.61" fill="#2c738e"/>
<rect x="571.36" y="72.35" width="5.59" height="12.61" fill="#228b8d"/>
<rect x="576.35" y="72.35" width="5.59" height="12.61" fill="#287d8e"/>
<rect x="581.34" y="72.35" width="5.59" height="12.61" fill="#2a788e"/>
<rect x="586.33" y="72.35" width="5.59" height="12.61" fill="#1e9c89"/>
<rect x="591.32" y="72.35" width="5.59" height="12.61" fill="#25848e"/>
<rect x="596.31" y="72.35" width="5.59" height="12.61" fill="#25848e"/>
<rect x="601.30" y="72.35" width="5.59" height="12.61" fill="#1f958b"/>
<rect x="606.29" y="72.35" width="5.59" height="12.61" fill="#26828e"/>
<rect x="611.28" y="72.35" width="5.59" height="12.61" fill="#287d8e"/>
<rect x="616.27" y="72.35" width="5.59" height="12.61" fill="#1e9c89"/>
<rect x="621.26" y="72.35" width="5.59" height="12.61" fill="#228b8d"/>
<rect x="626.25" y="72.35" width="5.59" height="12.61" fill="#24868e"/>
<rect x="631.24" y="72.35" width="5.59" height="12.61" fill="#24868e"/>
<rect x="636.23" y="72.35" width="5.59" height="12.61" fill="#25848e"/>
<rect x="641.22" y="72.35" width="5.59" height="12.61" fill="#2a788e"/>
<rect x="646.21" y="72.35" width="4.99" height="12.61" fill="#21918c"/>
<rect x="506.49" y="84.36" width="5.59" height="12.61" fill="#21918c"/>
<rect x="511.48" y="84.36" width="5.59" height="12.61" fill="#26828e"/>
<rect x="516.47" y="84.36" width="5.59" height="12.61" fill="#21918c"/>
<rect x="521.46" y="84.36" width="5.59" height="12.61" fill="#21918c"/>
<rect x="526.45" y="84.36" width="5.59" height="12.61" fill="#26828e"/>
<rect x="531.44" y="84.36" width="5.59" height="12.61" fill="#26828e"/>
<rect x="536.43" y="84.36" width="5.59" height="12.61" fill="#21918c"/>
<rect x="541.42" y="84.36" width="5.59" height="12.61" fill="#24868e"/>
<rect x="546.41" y="84.36" width="5.59" height="12.61" fill="#21918c"/>
<rect x="551.40" y="84.36" width="5.59" height="12.61" fill="#21918c"/>
<rect x="556.39" y="84.36" width="5.59" height="12.61" fill="#26828e"/>
<rect x="561.38" y="84.36" width="5.59" height="12.61" fill="#228b8d"/>
<rect x="566.37" y="84.36" width="5.59" height="12.61" fill="#26828e"/>
<rect x="571.36" y="84.36" width="5.59" height="12.61" fill="#1f958b"/>
<rect x="576.35" y="84.36" width="5.59" height="12.61" fill="#22a884"/>
<rect x="581.34" y="84.36" width="5.59" height="12.61" fill="#21918c"/>
<rect x="586.33" y="84.36" width="5.59" height="12.61" fill="#21918c"/>
<rect x="591.32" y="84.36" width="5.59" height="12.61" fill="#1f958b"/>
<rect x="596.31" y="84.36" width="5.59" height="12.61" fill="#287d8e"/>
<rect x="601.30" y="84.36" width="5.59" height="12.61" fill="#26828e"/>
<rect x="606.29" y="84.36" width="5.59" height="12.61" fill="#20a386"/>
<rect x="611.28" y="84.36" width="5.59" height="12.61" fill="#1f958b"/>
<rect x="616.27" y="84.36" width="5.59" height="12.61" fill="#26828e"/>
<rect x="621.26" y="84.36" width="5.59" height="12.61" fill="#2c738e"/>
<rect x="626.25" y="84.36" width="5.59" height="12.61" fill="#26828e"/>
<rect x="631.24" y="84.36" width="5.59" height="12.61" fill="#24868e"/>
<rect x="636.23" y="84.36" width="5.59" height="12.61" fill="#24868e"/>
<rect x="641.22" y="84.36" width="5.59" height="12.61" fill="#24868e"/>
<rect x="646.21" y="84.36" width="4.99" height="12.61" fill="#228b8d"/>
<rect x="506.49" y="96.37" width="5.59" height="12.61" fill="#287d8e"/>
<rect x="511.48" y="96.37" width="5.59" height="12.61" fill="#20a386"/>
<rect x="516.47" y="96.37" width="5.59" height="12.61" fill="#21918c"/>
<rect x="521.46" y="96.37" width="5.59" height="12.61" fill="#21918c"/>
<rect x="526.45" y="96.37" width="5.59" height="12.61" fill="#26828e"/>
<rect x="531.44" y="96.37" width="5.59" height="12.61" fill="#287d8e"/>
<rect x="536.43" y="96.37" width="5.59" height="12.61" fill="#22a884"/>
<rect x="541.42" y="96.37" width="5.59" height="12.61" fill="#21918c"/>
<rect x="546.41" y="96.37" width="5.59" height="12.61" fill="#228b8d"/>
<rect x="551.40" y="96.37" width="5.59" height="12.61" fill="#228b8d"/>
<rect x="556.39" y="96.37" width="5.59" height="12.61" fill="#287d8e"/>
<rect x="561.38" y="96.37" width="5.59" height="12.61" fill="#26828e"/>
<rect x="566.37" y="96.37" width="5.59" height="12.61" fill="#24868e"/>
<rect x="571.36" y="96.37" width="5.59" height="12.61" fill="#21918c"/>
<rect x="576.35" y="96.37" width="5.59" height="12.61" fill="#228b8d"/>
<rect x="581.34" y="96.37" width="5.59" height="12.61" fill="#24868e"/>
<rect x="586.33" y="96.37" width="5.59" height="12.61" fill="#24868e"/>
<rect x="591.32" y="96.37" width="5.59" height="12.61" fill="#24868e"/>
<rect x="596.31" y="96.37" width="5.59" height="12.61" fill="#26828e"/>
<rect x="601.30" y="96.37" width="5.59" height="12.61" fill="#26828e"/>
<rect x="606.29" y="96.37" width="5.59" height="12.61" fill="#26828e"/>
<rect x="611.28" y="96.37" width="5.59" height="12.61" fill="#26828e"/>
<rect x="616.27" y="96.37" width="5.59" height="12.61" fill="#228b8d"/>
<rect x="621.26" y="96.37" width="5.59" height="12.61" fill="#228b8d"/>
<rect x="626.25" y="96.37" width="5.59" height="12.61" fill="#228b8d"/>
<rect x="631.24" y="96.37" width="5.59" height="12.61" fill="#1f9a8a"/>
<rect x="636.23" y="96.37" width="5.59" height="12.61" fill="#228b8d"/>
<rect x="641.22" y="96.37" width="5.59" height="12.61" fill="#24868e"/>
<rect x="646.21" y="96.37" width="4.99" height="12.61" fill="#21918c"/>
<rect x="506.49" y="108.38" width="5.59" height="12.61" fill="#21918c"/>
<rect x="511.48" y="108.38" width="5.59" height="12.61" fill="#1f9f88"/>
<rect x="516.47" y="108.38" width="5.59" height="12.61" fill="#21918c"/>
<rect x="521.46" y="108.38" width="5.59" height="12.61" fill="#1f958b"/>
<rect x="526.45" y="108.38" width="5.59" height="12.61" fill="#21918c"/>
<rect x="531.44" y="108.38" width="5.59" height="12.61" fill="#26828e"/>
<rect x="536.43" y="108.38" width="5.59" height="12.61" fill="#1f958b"/>
<rect x="541.42" y="108.38" width="5.59" height="12.61" fill="#21918c"/>
<rect x="546.41" y="108.38" width="5.59" height="12.61" fill="#2a788e"/>
<rect x="551.40" y="108.38" width="5.59" height="12.61" fill="#21918c"/>
<rect x="556.39" y="108.38" width="5.59" height="12.61" fill="#228b8d"/>
<rect x="561.38" y="108.38" width="5.59" height="12.61" fill="#228b8d"/>
<rect x="566.37" y="108.38" width="5.59" height="12.61" fill="#21918c"/>
<rect x="571.36" y="108.38" width="5.59" height="12.61" fill="#21918c"/>
<rect x="576.35" y="108.38" width="5.59" height="12.61" fill="#21918c"/>
<rect x="581.34" y="108.38" width="5.59" height="12.61" fill="#228b8d"/>
<rect x="586.33" y="108.38" width="5.59" height="12.61" fill="#26828e"/>
<rect x="591.32" y="108.38" width="5.59" height="12.61" fill="#228b8d"/>
<rect x="596.31" y="108.38" width="5.59" height="12.61" fill="#1f9a8a"/>
<rect x="601.30" y="108.38" width="5.59" height="12.61" fill="#21918c"/>
<rect x="606.29" y="108.38" width="5.59" height="12.61" fill="#24868e"/>
<rect x="611.28" y="108.38" width="5.59" height="12.61" fill="#228b8d"/>
<rect x="616.27" y="108.38" width="5.59" height="12.61" fill="#287d8e"/>
<rect x="621.26" y="108.38" width="5.59" height="12.61" fill="#26828e"/>
<rect x="626.25" y="108.38" width="5.59" height="12.61" fill="#228b8d"/>
<rect x="631.24" y="108.38" width="5.59" height="12.61" fill="#26828e"/>
<rect x="636.23" y="108.38" width="5.59" height="12.61" fill="#1f958b"/>
<rect x="641.22" y="108.38" width="5.59" height="12.61" fill="#1f9f88"/>
<rect x="646.21" y="108.38" width="4.99" height="12.61" fill="#21918c"/>
<rect x="506.49" y="120.39" width="5.59" height="12.01" fill="#21918c"/>
<rect x="511.48" y="120.39" width="5.59" height="12.01" fill="#26828e"/>
<rect x="516.47" y="120.39" width="5.59" height="12.01" fill="#1f958b"/>
<rect x="521.46" y="120.39" width="5.59" height="12.01" fill="#21918c"/>
<rect x="526.45" y="120.39" width="5.59" height="12.01" fill="#228b8d"/>
<rect x="531.44" y="120.39" width="5.59" height="12.01" fill="#21918c"/>
<rect x="536.43" y="120.39" width="5.59" height="12.01" fill="#228b8d"/>
<rect x="541.42" y="120.39" width="5.59" height="12.01" fill="#1f9f88"/>
<rect x="546.41" y="120.39" width="5.59" height="12.01" fill="#1f9f88"/>
<rect x="551.40" y="120.39" width="5.59" height="12.01" fill="#21918c"/>
<rect x="556.39" y="120.39" width="5.59" height="12.01" fill="#1f958b"/>
<rect x="561.38" y="120.39" width="5.59" height="12.01" fill="#21918c"/>
<rect x="566.37" y="120.39" width="5.59" height="12.01" fill="#24868e"/>
<rect x="571.36" y="120.39" width="5.59" height="12.01" fill="#1f9a8a"/>
<rect x="576.35" y="120.39" width="5.59" height="12.01" fill="#1f9a8a"/>
<rect x="581.34" y="120.39" width="5.59" height="12.01" fill="#24868e"/>
<rect x="586.33" y="120.39" width="5.59" height="12.01" fill="#24868e"/>
<rect x="591.32" y="120.39" width="5.59" height="12.01" fill="#21918c"/>
<rect x="596.31" y="120.39" width="5.59" height="12.01" fill="#21918c"/>
<rect x="601.30" y="120.39" width="5.59" height="12.01" fill="#21918c"/>
<rect x="606.29" y="120.39" width="5.59" height="12.01" fill="#287d8e"/>
<rect x="611.28" y="120.39" width="5.59" height="12.01" fill="#26828e"/>
<rect x="616.27" y="120.39" width="5.59" height="12.01" fill="#1f958b"/>
<rect x="621.26" y="120.39" width="5.59" height="12.01" fill="#21918c"/>
<rect x="626.25" y="120.39" width="5.59" height="12.01" fill="#1f9a8a"/>
<rect x="631.24" y="120.39" width="5.59" height="12.01" fill="#21918c"/>
<rect x="636.23" y="120.39" width="5.59" height="12.01" fill="#24868e"/>
<rect x="641.22" y="120.39" width="5.59" height="12.01" fill="#21918c"/>
<rect x="646.21" y="120.39" width="4.99" height="12.01" fill="#21918c"/>
<clipPath id="clip2"><rect x="501.50" y="12.30" width="149.70" height="120.10"/></clipPath>
<polyline points="506.5,133.0 506.5,12.0" fill="none" stroke="#000" stroke-width="1.4" stroke-linejoin="round" clip-path="url(#clip2)"/>
<polyline points="506.5,72.0 574.5,72.0 590.6,60.4 604.3,52.3 615.0,39.0 624.7,25.6 631.0,12.3" fill="none" stroke="#000" stroke-width="1.4" stroke-dasharray="4.8 2.1" stroke-linejoin="round" clip-path="url(#clip2)"/>
<rect x="501.50" y="12.30" width="149.70" height="120.10" fill="none" stroke="#000" stroke-width="0.7"/>
<line x1="501.50" y1="132.40" x2="501.50" y2="135.40" stroke="#000" stroke-width="0.7"/>
<text x="501.50" y="144.00" class="tk" text-anchor="middle">0.0</text>
<line x1="531.44" y1="132.40" x2="531.44" y2="135.40" stroke="#000" stroke-width="0.7"/>
<text x="531.44" y="144.00" class="tk" text-anchor="middle">0.2</text>
<line x1="561.38" y1="132.40" x2="561.38" y2="135.40" stroke="#000" stroke-width="0.7"/>
<text x="561.38" y="144.00" class="tk" text-anchor="middle">0.4</text>
<line x1="591.32" y1="132.40" x2="591.32" y2="135.40" stroke="#000" stroke-width="0.7"/>
<text x="591.32" y="144.00" class="tk" text-anchor="middle">0.6</text>
<line x1="621.26" y1="132.40" x2="621.26" y2="135.40" stroke="#000" stroke-width="0.7"/>
<text x="621.26" y="144.00" class="tk" text-anchor="middle">0.8</text>
<line x1="651.20" y1="132.40" x2="651.20" y2="135.40" stroke="#000" stroke-width="0.7"/>
<text x="651.20" y="144.00" class="tk" text-anchor="middle">1.0</text>
<line x1="498.50" y1="112.38" x2="501.50" y2="112.38" stroke="#000" stroke-width="0.7"/>
<text x="495.90" y="115.98" class="tk" text-anchor="end">1</text>
<line x1="498.50" y1="79.02" x2="501.50" y2="79.02" stroke="#000" stroke-width="0.7"/>
<text x="495.90" y="82.62" class="tk" text-anchor="end">2</text>
<line x1="498.50" y1="45.66" x2="501.50" y2="45.66" stroke="#000" stroke-width="0.7"/>
<text x="495.90" y="49.26" class="tk" text-anchor="end">3</text>
<line x1="498.50" y1="12.30" x2="501.50" y2="12.30" stroke="#000" stroke-width="0.7"/>
<text x="495.90" y="15.90" class="tk" text-anchor="end">4</text>
<text x="576.35" y="154.10" class="ql" text-anchor="middle">q</text>
<text transform="translate(485.00,72.35) rotate(-90)" class="yl" text-anchor="middle">Δ<tspan class="it">S</tspan>( = Δ<tspan class="it">T</tspan>)</text>
<text x="576.35" y="7.20" class="ti" text-anchor="middle">UI</text>
<text x="501.80" y="7.30" class="lt">c</text>
<text x="525.0" y="42.6" class="an" text-anchor="start" textLength="59.4" lengthAdjust="spacing">Pareto-optimal</text>
<text x="561.8" y="102.5" class="an" text-anchor="start" textLength="50.2" lengthAdjust="spacing">coordination</text>
<text x="561.8" y="111.5" class="an" text-anchor="start" textLength="63.6" lengthAdjust="spacing">on any strategy</text>
<rect x="660.10" y="12.30" width="6.9" height="120.10" fill="url(#vg)" stroke="#000" stroke-width="0.7"/>
<line x1="667.00" y1="132.40" x2="669.60" y2="132.40" stroke="#000" stroke-width="0.7"/>
<text x="672.30" y="136.10" class="tk">0.0</text>
<line x1="667.00" y1="108.38" x2="669.60" y2="108.38" stroke="#000" stroke-width="0.7"/>
<text x="672.30" y="112.08" class="tk">0.2</text>
<line x1="667.00" y1="84.36" x2="669.60" y2="84.36" stroke="#000" stroke-width="0.7"/>
<text x="672.30" y="88.06" class="tk">0.4</text>
<line x1="667.00" y1="60.34" x2="669.60" y2="60.34" stroke="#000" stroke-width="0.7"/>
<text x="672.30" y="64.04" class="tk">0.6</text>
<line x1="667.00" y1="36.32" x2="669.60" y2="36.32" stroke="#000" stroke-width="0.7"/>
<text x="672.30" y="40.02" class="tk">0.8</text>
<line x1="667.00" y1="12.30" x2="669.60" y2="12.30" stroke="#000" stroke-width="0.7"/>
<text x="672.30" y="16.00" class="tk">1.0</text>
</g>
<g>
<rect x="30.50" y="189.40" width="149.70" height="119.90" fill="#dda0dd"/>
<rect x="150.26" y="189.40" width="5.59" height="12.59" fill="#e5e419"/>
<rect x="155.25" y="189.40" width="5.59" height="12.59" fill="#ece51b"/>
<rect x="160.24" y="189.40" width="5.59" height="12.59" fill="#f1e51d"/>
<rect x="165.23" y="189.40" width="5.59" height="12.59" fill="#ece51b"/>
<rect x="170.22" y="189.40" width="5.59" height="12.59" fill="#dfe318"/>
<rect x="175.21" y="189.40" width="4.99" height="12.59" fill="#ece51b"/>
<rect x="120.32" y="201.39" width="5.59" height="12.59" fill="#fde725"/>
<rect x="125.31" y="201.39" width="5.59" height="12.59" fill="#fde725"/>
<rect x="130.30" y="201.39" width="5.59" height="12.59" fill="#fde725"/>
<rect x="135.29" y="201.39" width="5.59" height="12.59" fill="#fde725"/>
<rect x="140.28" y="201.39" width="5.59" height="12.59" fill="#f1e51d"/>
<rect x="145.27" y="201.39" width="5.59" height="12.59" fill="#dfe318"/>
<rect x="150.26" y="201.39" width="5.59" height="12.59" fill="#dfe318"/>
<rect x="155.25" y="201.39" width="5.59" height="12.59" fill="#cae11f"/>
<rect x="160.24" y="201.39" width="5.59" height="12.59" fill="#dfe318"/>
<rect x="165.23" y="201.39" width="5.59" height="12.59" fill="#d2e21b"/>
<rect x="170.22" y="201.39" width="5.59" height="12.59" fill="#e5e419"/>
<rect x="175.21" y="201.39" width="4.99" height="12.59" fill="#dfe318"/>
<rect x="95.37" y="213.38" width="5.59" height="12.59" fill="#fde725"/>
<rect x="100.36" y="213.38" width="5.59" height="12.59" fill="#fde725"/>
<rect x="105.35" y="213.38" width="5.59" height="12.59" fill="#fde725"/>
<rect x="110.34" y="213.38" width="5.59" height="12.59" fill="#fde725"/>
<rect x="115.33" y="213.38" width="5.59" height="12.59" fill="#fde725"/>
<rect x="120.32" y="213.38" width="5.59" height="12.59" fill="#fde725"/>
<rect x="125.31" y="213.38" width="5.59" height="12.59" fill="#fde725"/>
<rect x="130.30" y="213.38" width="5.59" height="12.59" fill="#f1e51d"/>
<rect x="135.29" y="213.38" width="5.59" height="12.59" fill="#ece51b"/>
<rect x="140.28" y="213.38" width="5.59" height="12.59" fill="#d2e21b"/>
<rect x="145.27" y="213.38" width="5.59" height="12.59" fill="#cae11f"/>
<rect x="150.26" y="213.38" width="5.59" height="12.59" fill="#a2da37"/>
<rect x="155.25" y="213.38" width="5.59" height="12.59" fill="#cae11f"/>
<rect x="160.24" y="213.38" width="5.59" height="12.59" fill="#d8e219"/>
<rect x="165.23" y="213.38" width="5.59" height="12.59" fill="#cae11f"/>
<rect x="170.22" y="213.38" width="5.59" height="12.59" fill="#f1e51d"/>
<rect x="175.21" y="213.38" width="4.99" height="12.59" fill="#d2e21b"/>
<rect x="75.41" y="225.37" width="5.59" height="12.59" fill="#fde725"/>
<rect x="80.40" y="225.37" width="5.59" height="12.59" fill="#fde725"/>
<rect x="85.39" y="225.37" width="5.59" height="12.59" fill="#fde725"/>
<rect x="90.38" y="225.37" width="5.59" height="12.59" fill="#fde725"/>
<rect x="95.37" y="225.37" width="5.59" height="12.59" fill="#fde725"/>
<rect x="100.36" y="225.37" width="5.59" height="12.59" fill="#fde725"/>
<rect x="105.35" y="225.37" width="5.59" height="12.59" fill="#fde725"/>
<rect x="110.34" y="225.37" width="5.59" height="12.59" fill="#fde725"/>
<rect x="115.33" y="225.37" width="5.59" height="12.59" fill="#fde725"/>
<rect x="120.32" y="225.37" width="5.59" height="12.59" fill="#fde725"/>
<rect x="125.31" y="225.37" width="5.59" height="12.59" fill="#f8e621"/>
<rect x="130.30" y="225.37" width="5.59" height="12.59" fill="#e5e419"/>
<rect x="135.29" y="225.37" width="5.59" height="12.59" fill="#d8e219"/>
<rect x="140.28" y="225.37" width="5.59" height="12.59" fill="#d2e21b"/>
<rect x="145.27" y="225.37" width="5.59" height="12.59" fill="#cae11f"/>
<rect x="150.26" y="225.37" width="5.59" height="12.59" fill="#b0dd2f"/>
<rect x="155.25" y="225.37" width="5.59" height="12.59" fill="#cae11f"/>
<rect x="160.24" y="225.37" width="5.59" height="12.59" fill="#cae11f"/>
<rect x="165.23" y="225.37" width="5.59" height="12.59" fill="#b5de2b"/>
<rect x="170.22" y="225.37" width="5.59" height="12.59" fill="#ece51b"/>
<rect x="175.21" y="225.37" width="4.99" height="12.59" fill="#e5e419"/>
<rect x="70.42" y="237.36" width="5.59" height="12.59" fill="#fde725"/>
<rect x="75.41" y="237.36" width="5.59" height="12.59" fill="#fde725"/>
<rect x="80.40" y="237.36" width="5.59" height="12.59" fill="#fde725"/>
<rect x="85.39" y="237.36" width="5.59" height="12.59" fill="#fde725"/>
<rect x="90.38" y="237.36" width="5.59" height="12.59" fill="#fde725"/>
<rect x="95.37" y="237.36" width="5.59" height="12.59" fill="#fde725"/>
<rect x="100.36" y="237.36" width="5.59" height="12.59" fill="#fde725"/>
<rect x="105.35" y="237.36" width="5.59" height="12.59" fill="#fde725"/>
<rect x="110.34" y="237.36" width="5.59" height="12.59" fill="#fde725"/>
<rect x="115.33" y="237.36" width="5.59" height="12.59" fill="#fde725"/>
<rect x="120.32" y="237.36" width="5.59" height="12.59" fill="#fde725"/>
<rect x="125.31" y="237.36" width="5.59" height="12.59" fill="#dfe318"/>
<rect x="130.30" y="237.36" width="5.59" height="12.59" fill="#d8e219"/>
<rect x="135.29" y="237.36" width="5.59" height="12.59" fill="#cae11f"/>
<rect x="140.28" y="237.36" width="5.59" height="12.59" fill="#95d840"/>
<rect x="145.27" y="237.36" width="5.59" height="12.59" fill="#bddf26"/>
<rect x="150.26" y="237.36" width="5.59" height="12.59" fill="#cae11f"/>
<rect x="155.25" y="237.36" width="5.59" height="12.59" fill="#d2e21b"/>
<rect x="160.24" y="237.36" width="5.59" height="12.59" fill="#fde725"/>
<rect x="165.23" y="237.36" width="5.59" height="12.59" fill="#d2e21b"/>
<rect x="170.22" y="237.36" width="5.59" height="12.59" fill="#d8e219"/>
<rect x="175.21" y="237.36" width="4.99" height="12.59" fill="#d8e219"/>
<rect x="60.44" y="249.35" width="5.59" height="12.59" fill="#fde725"/>
<rect x="65.43" y="249.35" width="5.59" height="12.59" fill="#fde725"/>
<rect x="70.42" y="249.35" width="5.59" height="12.59" fill="#fde725"/>
<rect x="75.41" y="249.35" width="5.59" height="12.59" fill="#fde725"/>
<rect x="80.40" y="249.35" width="5.59" height="12.59" fill="#fde725"/>
<rect x="85.39" y="249.35" width="5.59" height="12.59" fill="#fde725"/>
<rect x="90.38" y="249.35" width="5.59" height="12.59" fill="#fde725"/>
<rect x="95.37" y="249.35" width="5.59" height="12.59" fill="#fde725"/>
<rect x="100.36" y="249.35" width="5.59" height="12.59" fill="#fde725"/>
<rect x="105.35" y="249.35" width="5.59" height="12.59" fill="#fde725"/>
<rect x="110.34" y="249.35" width="5.59" height="12.59" fill="#f1e51d"/>
<rect x="115.33" y="249.35" width="5.59" height="12.59" fill="#d2e21b"/>
<rect x="120.32" y="249.35" width="5.59" height="12.59" fill="#cae11f"/>
<rect x="125.31" y="249.35" width="5.59" height="12.59" fill="#d2e21b"/>
<rect x="130.30" y="249.35" width="5.59" height="12.59" fill="#a2da37"/>
<rect x="135.29" y="249.35" width="5.59" height="12.59" fill="#7ad151"/>
<rect x="140.28" y="249.35" width="5.59" height="12.59" fill="#d2e21b"/>
<rect x="145.27" y="249.35" width="5.59" height="12.59" fill="#a8db34"/>
<rect x="150.26" y="249.35" width="5.59" height="12.59" fill="#d2e21b"/>
<rect x="155.25" y="249.35" width="5.59" height="12.59" fill="#d2e21b"/>
<rect x="160.24" y="249.35" width="5.59" height="12.59" fill="#d8e219"/>
<rect x="165.23" y="249.35" width="5.59" height="12.59" fill="#d2e21b"/>
<rect x="170.22" y="249.35" width="5.59" height="12.59" fill="#d2e21b"/>
<rect x="175.21" y="249.35" width="4.99" height="12.59" fill="#d8e219"/>
<rect x="55.45" y="261.34" width="5.59" height="12.59" fill="#fde725"/>
<rect x="60.44" y="261.34" width="5.59" height="12.59" fill="#fde725"/>
<rect x="65.43" y="261.34" width="5.59" height="12.59" fill="#fde725"/>
<rect x="70.42" y="261.34" width="5.59" height="12.59" fill="#fde725"/>
<rect x="75.41" y="261.34" width="5.59" height="12.59" fill="#fde725"/>
<rect x="80.40" y="261.34" width="5.59" height="12.59" fill="#fde725"/>
<rect x="85.39" y="261.34" width="5.59" height="12.59" fill="#fde725"/>
<rect x="90.38" y="261.34" width="5.59" height="12.59" fill="#fde725"/>
<rect x="95.37" y="261.34" width="5.59" height="12.59" fill="#fde725"/>
<rect x="100.36" y="261.34" width="5.59" height="12.59" fill="#fde725"/>
<rect x="105.35" y="261.34" width="5.59" height="12.59" fill="#f1e51d"/>
<rect x="110.34" y="261.34" width="5.59" height="12.59" fill="#cae11f"/>
<rect x="115.33" y="261.34" width="5.59" height="12.59" fill="#bddf26"/>
<rect x="120.32" y="261.34" width="5.59" height="12.59" fill="#b0dd2f"/>
<rect x="125.31" y="261.34" width="5.59" height="12.59" fill="#86d549"/>
<rect x="130.30" y="261.34" width="5.59" height="12.59" fill="#b0dd2f"/>
<rect x="135.29" y="261.34" width="5.59" height="12.59" fill="#bddf26"/>
<rect x="140.28" y="261.34" width="5.59" height="12.59" fill="#cae11f"/>
<rect x="145.27" y="261.34" width="5.59" height="12.59" fill="#bddf26"/>
<rect x="150.26" y="261.34" width="5.59" height="12.59" fill="#bddf26"/>
<rect x="155.25" y="261.34" width="5.59" height="12.59" fill="#cae11f"/>
<rect x="160.24" y="261.34" width="5.59" height="12.59" fill="#d2e21b"/>
<rect x="165.23" y="261.34" width="5.59" height="12.59" fill="#bddf26"/>
<rect x="170.22" y="261.34" width="5.59" height="12.59" fill="#cae11f"/>
<rect x="175.21" y="261.34" width="4.99" height="12.59" fill="#bddf26"/>
<rect x="50.46" y="273.33" width="5.59" height="12.59" fill="#fde725"/>
<rect x="55.45" y="273.33" width="5.59" height="12.59" fill="#fde725"/>
<rect x="60.44" y="273.33" width="5.59" height="12.59" fill="#fde725"/>
<rect x="65.43" y="273.33" width="5.59" height="12.59" fill="#fde725"/>
<rect x="70.42" y="273.33" width="5.59" height="12.59" fill="#fde725"/>
<rect x="75.41" y="273.33" width="5.59" height="12.59" fill="#fde725"/>
<rect x="80.40" y="273.33" width="5.59" height="12.59" fill="#fde725"/>
<rect x="85.39" y="273.33" width="5.59" height="12.59" fill="#fde725"/>
<rect x="90.38" y="273.33" width="5.59" height="12.59" fill="#fde725"/>
<rect x="95.37" y="273.33" width="5.59" height="12.59" fill="#fde725"/>
<rect x="100.36" y="273.33" width="5.59" height="12.59" fill="#ece51b"/>
<rect x="105.35" y="273.33" width="5.59" height="12.59" fill="#d2e21b"/>
<rect x="110.34" y="273.33" width="5.59" height="12.59" fill="#bddf26"/>
<rect x="115.33" y="273.33" width="5.59" height="12.59" fill="#d2e21b"/>
<rect x="120.32" y="273.33" width="5.59" height="12.59" fill="#bddf26"/>
<rect x="125.31" y="273.33" width="5.59" height="12.59" fill="#bddf26"/>
<rect x="130.30" y="273.33" width="5.59" height="12.59" fill="#bddf26"/>
<rect x="135.29" y="273.33" width="5.59" height="12.59" fill="#b0dd2f"/>
<rect x="140.28" y="273.33" width="5.59" height="12.59" fill="#b0dd2f"/>
<rect x="145.27" y="273.33" width="5.59" height="12.59" fill="#bddf26"/>
<rect x="150.26" y="273.33" width="5.59" height="12.59" fill="#bddf26"/>
<rect x="155.25" y="273.33" width="5.59" height="12.59" fill="#bddf26"/>
<rect x="160.24" y="273.33" width="5.59" height="12.59" fill="#cae11f"/>
<rect x="165.23" y="273.33" width="5.59" height="12.59" fill="#a2da37"/>
<rect x="170.22" y="273.33" width="5.59" height="12.59" fill="#d8e219"/>
<rect x="175.21" y="273.33" width="4.99" height="12.59" fill="#ece51b"/>
<rect x="45.47" y="285.32" width="5.59" height="12.59" fill="#fde725"/>
<rect x="50.46" y="285.32" width="5.59" height="12.59" fill="#fde725"/>
<rect x="55.45" y="285.32" width="5.59" height="12.59" fill="#fde725"/>
<rect x="60.44" y="285.32" width="5.59" height="12.59" fill="#fde725"/>
<rect x="65.43" y="285.32" width="5.59" height="12.59" fill="#fde725"/>
<rect x="70.42" y="285.32" width="5.59" height="12.59" fill="#fde725"/>
<rect x="75.41" y="285.32" width="5.59" height="12.59" fill="#fde725"/>
<rect x="80.40" y="285.32" width="5.59" height="12.59" fill="#fde725"/>
<rect x="85.39" y="285.32" width="5.59" height="12.59" fill="#ece51b"/>
<rect x="90.38" y="285.32" width="5.59" height="12.59" fill="#d8e219"/>
<rect x="95.37" y="285.32" width="5.59" height="12.59" fill="#cae11f"/>
<rect x="100.36" y="285.32" width="5.59" height="12.59" fill="#7ad151"/>
<rect x="105.35" y="285.32" width="5.59" height="12.59" fill="#a8db34"/>
<rect x="110.34" y="285.32" width="5.59" height="12.59" fill="#8ed645"/>
<rect x="115.33" y="285.32" width="5.59" height="12.59" fill="#b0dd2f"/>
<rect x="120.32" y="285.32" width="5.59" height="12.59" fill="#95d840"/>
<rect x="125.31" y="285.32" width="5.59" height="12.59" fill="#bddf26"/>
<rect x="130.30" y="285.32" width="5.59" height="12.59" fill="#b0dd2f"/>
<rect x="135.29" y="285.32" width="5.59" height="12.59" fill="#b0dd2f"/>
<rect x="140.28" y="285.32" width="5.59" height="12.59" fill="#b0dd2f"/>
<rect x="145.27" y="285.32" width="5.59" height="12.59" fill="#bddf26"/>
<rect x="150.26" y="285.32" width="5.59" height="12.59" fill="#cae11f"/>
<rect x="155.25" y="285.32" width="5.59" height="12.59" fill="#cae11f"/>
<rect x="160.24" y="285.32" width="5.59" height="12.59" fill="#e5e419"/>
<rect x="165.23" y="285.32" width="5.59" height="12.59" fill="#e5e419"/>
<rect x="170.22" y="285.32" width="5.59" height="12.59" fill="#d8e219"/>
<rect x="175.21" y="285.32" width="4.99" height="12.59" fill="#dfe318"/>
<rect x="45.47" y="297.31" width="5.59" height="11.99" fill="#fde725"/>
<rect x="50.46" y="297.31" width="5.59" height="11.99" fill="#fde725"/>
<rect x="55.45" y="297.31" width="5.59" height="11.99" fill="#fde725"/>
<rect x="60.44" y="297.31" width="5.59" height="11.99" fill="#fde725"/>
<rect x="65.43" y="297.31" width="5.59" height="11.99" fill="#fde725"/>
<rect x="70.42" y="297.31" width="5.59" height="11.99" fill="#ece51b"/>
<rect x="75.41" y="297.31" width="5.59" height="11.99" fill="#b0dd2f"/>
<rect x="80.40" y="297.31" width="5.59" height="11.99" fill="#d2e21b"/>
<rect x="85.39" y="297.31" width="5.59" height="11.99" fill="#95d840"/>
<rect x="90.38" y="297.31" width="5.59" height="11.99" fill="#86d549"/>
<rect x="95.37" y="297.31" width="5.59" height="11.99" fill="#86d549"/>
<rect x="100.36" y="297.31" width="5.59" height="11.99" fill="#b0dd2f"/>
<rect x="105.35" y="297.31" width="5.59" height="11.99" fill="#b0dd2f"/>
<rect x="110.34" y="297.31" width="5.59" height="11.99" fill="#bddf26"/>
<rect x="115.33" y="297.31" width="5.59" height="11.99" fill="#d8e219"/>
<rect x="120.32" y="297.31" width="5.59" height="11.99" fill="#86d549"/>
<rect x="125.31" y="297.31" width="5.59" height="11.99" fill="#86d549"/>
<rect x="130.30" y="297.31" width="5.59" height="11.99" fill="#bddf26"/>
<rect x="135.29" y="297.31" width="5.59" height="11.99" fill="#cae11f"/>
<rect x="140.28" y="297.31" width="5.59" height="11.99" fill="#dfe318"/>
<rect x="145.27" y="297.31" width="5.59" height="11.99" fill="#dfe318"/>
<rect x="150.26" y="297.31" width="5.59" height="11.99" fill="#cae11f"/>
<rect x="155.25" y="297.31" width="5.59" height="11.99" fill="#cae11f"/>
<rect x="160.24" y="297.31" width="5.59" height="11.99" fill="#d2e21b"/>
<rect x="165.23" y="297.31" width="5.59" height="11.99" fill="#d2e21b"/>
<rect x="170.22" y="297.31" width="5.59" height="11.99" fill="#f1e51d"/>
<rect x="175.21" y="297.31" width="4.99" height="11.99" fill="#e5e419"/>
<clipPath id="clip3"><rect x="30.50" y="189.40" width="149.70" height="119.90"/></clipPath>
<polyline points="42.5,309.3 45.0,296.0 47.6,282.7 52.5,269.3 58.5,256.0 66.0,242.7 75.5,229.4 95.0,216.0 120.2,203.0 152.0,189.4" fill="none" stroke="#000" stroke-width="1.4" stroke-linejoin="round" clip-path="url(#clip3)"/>
<polyline points="72.0,309.3 83.5,296.0 95.5,282.7 106.0,269.3 113.0,256.0 122.5,242.7 128.5,229.4 138.5,216.0 144.2,202.7 153.9,189.4" fill="none" stroke="#000" stroke-width="1.4" stroke-dasharray="4.8 2.1" stroke-linejoin="round" clip-path="url(#clip3)"/>
<rect x="30.50" y="189.40" width="149.70" height="119.90" fill="none" stroke="#000" stroke-width="0.7"/>
<line x1="30.50" y1="309.30" x2="30.50" y2="312.30" stroke="#000" stroke-width="0.7"/>
<text x="30.50" y="320.90" class="tk" text-anchor="middle">0.0</text>
<line x1="60.44" y1="309.30" x2="60.44" y2="312.30" stroke="#000" stroke-width="0.7"/>
<text x="60.44" y="320.90" class="tk" text-anchor="middle">0.2</text>
<line x1="90.38" y1="309.30" x2="90.38" y2="312.30" stroke="#000" stroke-width="0.7"/>
<text x="90.38" y="320.90" class="tk" text-anchor="middle">0.4</text>
<line x1="120.32" y1="309.30" x2="120.32" y2="312.30" stroke="#000" stroke-width="0.7"/>
<text x="120.32" y="320.90" class="tk" text-anchor="middle">0.6</text>
<line x1="150.26" y1="309.30" x2="150.26" y2="312.30" stroke="#000" stroke-width="0.7"/>
<text x="150.26" y="320.90" class="tk" text-anchor="middle">0.8</text>
<line x1="180.20" y1="309.30" x2="180.20" y2="312.30" stroke="#000" stroke-width="0.7"/>
<text x="180.20" y="320.90" class="tk" text-anchor="middle">1.0</text>
<line x1="27.50" y1="295.98" x2="30.50" y2="295.98" stroke="#000" stroke-width="0.7"/>
<text x="24.90" y="299.58" class="tk" text-anchor="end">0.2</text>
<line x1="27.50" y1="269.33" x2="30.50" y2="269.33" stroke="#000" stroke-width="0.7"/>
<text x="24.90" y="272.93" class="tk" text-anchor="end">0.4</text>
<line x1="27.50" y1="242.69" x2="30.50" y2="242.69" stroke="#000" stroke-width="0.7"/>
<text x="24.90" y="246.29" class="tk" text-anchor="end">0.6</text>
<line x1="27.50" y1="216.04" x2="30.50" y2="216.04" stroke="#000" stroke-width="0.7"/>
<text x="24.90" y="219.64" class="tk" text-anchor="end">0.8</text>
<line x1="27.50" y1="189.40" x2="30.50" y2="189.40" stroke="#000" stroke-width="0.7"/>
<text x="24.90" y="193.00" class="tk" text-anchor="end">1.0</text>
<text x="105.35" y="331.00" class="ql" text-anchor="middle">q</text>
<text transform="translate(6.90,249.35) rotate(-90)" class="yl" text-anchor="middle">Δ<tspan class="it">S</tspan>( = Δ<tspan class="it">T</tspan>)</text>
<text x="105.35" y="184.30" class="ti" text-anchor="middle">RD</text>
<text x="30.80" y="184.40" class="lt">d</text>
<text x="35.1" y="202.5" class="an" text-anchor="start" textLength="77.0" lengthAdjust="spacing">no synchronization</text>
<text x="173.4" y="273.6" class="an" text-anchor="end" textLength="50.2" lengthAdjust="spacing">coordination</text>
<text x="173.4" y="282.9" class="an" text-anchor="end" textLength="63.6" lengthAdjust="spacing">on any strategy</text>
<text transform="translate(89.6,260.3) rotate(-53.5)" class="an" text-anchor="middle" textLength="59.4" lengthAdjust="spacing">Pareto-optimal</text>
<rect x="189.10" y="189.40" width="6.9" height="119.90" fill="url(#vg)" stroke="#000" stroke-width="0.7"/>
<line x1="196.00" y1="309.30" x2="198.60" y2="309.30" stroke="#000" stroke-width="0.7"/>
<text x="201.30" y="313.00" class="tk">0.0</text>
<line x1="196.00" y1="285.32" x2="198.60" y2="285.32" stroke="#000" stroke-width="0.7"/>
<text x="201.30" y="289.02" class="tk">0.2</text>
<line x1="196.00" y1="261.34" x2="198.60" y2="261.34" stroke="#000" stroke-width="0.7"/>
<text x="201.30" y="265.04" class="tk">0.4</text>
<line x1="196.00" y1="237.36" x2="198.60" y2="237.36" stroke="#000" stroke-width="0.7"/>
<text x="201.30" y="241.06" class="tk">0.6</text>
<line x1="196.00" y1="213.38" x2="198.60" y2="213.38" stroke="#000" stroke-width="0.7"/>
<text x="201.30" y="217.08" class="tk">0.8</text>
<line x1="196.00" y1="189.40" x2="198.60" y2="189.40" stroke="#000" stroke-width="0.7"/>
<text x="201.30" y="193.10" class="tk">1.0</text>
</g>
<g>
<rect x="266.00" y="189.40" width="149.70" height="119.90" fill="#dda0dd"/>
<rect x="410.71" y="189.40" width="4.99" height="12.59" fill="#1f958b"/>
<rect x="410.71" y="201.39" width="4.99" height="12.59" fill="#1f958b"/>
<rect x="410.71" y="213.38" width="4.99" height="12.59" fill="#1f958b"/>
<rect x="410.71" y="225.37" width="4.99" height="12.59" fill="#1f958b"/>
<rect x="410.71" y="237.36" width="4.99" height="12.59" fill="#1f958b"/>
<rect x="410.71" y="249.35" width="4.99" height="12.59" fill="#1f958b"/>
<rect x="390.75" y="261.34" width="5.59" height="12.59" fill="#21918c"/>
<rect x="395.74" y="261.34" width="5.59" height="12.59" fill="#24868e"/>
<rect x="400.73" y="261.34" width="5.59" height="12.59" fill="#26828e"/>
<rect x="405.72" y="261.34" width="5.59" height="12.59" fill="#21918c"/>
<rect x="410.71" y="261.34" width="4.99" height="12.59" fill="#1e9c89"/>
<rect x="390.75" y="273.33" width="5.59" height="12.59" fill="#21918c"/>
<rect x="395.74" y="273.33" width="5.59" height="12.59" fill="#228b8d"/>
<rect x="400.73" y="273.33" width="5.59" height="12.59" fill="#2a788e"/>
<rect x="405.72" y="273.33" width="5.59" height="12.59" fill="#1e9c89"/>
<rect x="410.71" y="273.33" width="4.99" height="12.59" fill="#24868e"/>
<rect x="345.84" y="285.32" width="5.59" height="12.59" fill="#1f9a8a"/>
<rect x="350.83" y="285.32" width="5.59" height="12.59" fill="#1f958b"/>
<rect x="355.82" y="285.32" width="5.59" height="12.59" fill="#24868e"/>
<rect x="360.81" y="285.32" width="5.59" height="12.59" fill="#228b8d"/>
<rect x="365.80" y="285.32" width="5.59" height="12.59" fill="#21918c"/>
<rect x="370.79" y="285.32" width="5.59" height="12.59" fill="#21918c"/>
<rect x="375.78" y="285.32" width="5.59" height="12.59" fill="#21918c"/>
<rect x="380.77" y="285.32" width="5.59" height="12.59" fill="#21918c"/>
<rect x="385.76" y="285.32" width="5.59" height="12.59" fill="#287d8e"/>
<rect x="390.75" y="285.32" width="5.59" height="12.59" fill="#1f9f88"/>
<rect x="395.74" y="285.32" width="5.59" height="12.59" fill="#21918c"/>
<rect x="400.73" y="285.32" width="5.59" height="12.59" fill="#24868e"/>
<rect x="405.72" y="285.32" width="5.59" height="12.59" fill="#24868e"/>
<rect x="410.71" y="285.32" width="4.99" height="12.59" fill="#24868e"/>
<rect x="345.84" y="297.31" width="5.59" height="11.99" fill="#21918c"/>
<rect x="350.83" y="297.31" width="5.59" height="11.99" fill="#21918c"/>
<rect x="355.82" y="297.31" width="5.59" height="11.99" fill="#24868e"/>
<rect x="360.81" y="297.31" width="5.59" height="11.99" fill="#228b8d"/>
<rect x="365.80" y="297.31" width="5.59" height="11.99" fill="#21918c"/>
<rect x="370.79" y="297.31" width="5.59" height="11.99" fill="#228b8d"/>
<rect x="375.78" y="297.31" width="5.59" height="11.99" fill="#228b8d"/>
<rect x="380.77" y="297.31" width="5.59" height="11.99" fill="#287d8e"/>
<rect x="385.76" y="297.31" width="5.59" height="11.99" fill="#1f9a8a"/>
<rect x="390.75" y="297.31" width="5.59" height="11.99" fill="#21918c"/>
<rect x="395.74" y="297.31" width="5.59" height="11.99" fill="#228b8d"/>
<rect x="400.73" y="297.31" width="5.59" height="11.99" fill="#228b8d"/>
<rect x="405.72" y="297.31" width="5.59" height="11.99" fill="#24868e"/>
<rect x="410.71" y="297.31" width="4.99" height="11.99" fill="#24868e"/>
<clipPath id="clip4"><rect x="266.00" y="189.40" width="149.70" height="119.90"/></clipPath>
<polyline points="348.1,310.0 348.1,296.0 394.0,282.7 394.6,269.3 413.6,256.0 413.9,242.7 413.9,189.0" fill="none" stroke="#000" stroke-width="1.4" stroke-linejoin="round" clip-path="url(#clip4)"/>
<rect x="266.00" y="189.40" width="149.70" height="119.90" fill="none" stroke="#000" stroke-width="0.7"/>
<line x1="266.00" y1="309.30" x2="266.00" y2="312.30" stroke="#000" stroke-width="0.7"/>
<text x="266.00" y="320.90" class="tk" text-anchor="middle">0.0</text>
<line x1="295.94" y1="309.30" x2="295.94" y2="312.30" stroke="#000" stroke-width="0.7"/>
<text x="295.94" y="320.90" class="tk" text-anchor="middle">0.2</text>
<line x1="325.88" y1="309.30" x2="325.88" y2="312.30" stroke="#000" stroke-width="0.7"/>
<text x="325.88" y="320.90" class="tk" text-anchor="middle">0.4</text>
<line x1="355.82" y1="309.30" x2="355.82" y2="312.30" stroke="#000" stroke-width="0.7"/>
<text x="355.82" y="320.90" class="tk" text-anchor="middle">0.6</text>
<line x1="385.76" y1="309.30" x2="385.76" y2="312.30" stroke="#000" stroke-width="0.7"/>
<text x="385.76" y="320.90" class="tk" text-anchor="middle">0.8</text>
<line x1="415.70" y1="309.30" x2="415.70" y2="312.30" stroke="#000" stroke-width="0.7"/>
<text x="415.70" y="320.90" class="tk" text-anchor="middle">1.0</text>
<line x1="263.00" y1="295.98" x2="266.00" y2="295.98" stroke="#000" stroke-width="0.7"/>
<text x="260.40" y="299.58" class="tk" text-anchor="end">0.2</text>
<line x1="263.00" y1="269.33" x2="266.00" y2="269.33" stroke="#000" stroke-width="0.7"/>
<text x="260.40" y="272.93" class="tk" text-anchor="end">0.4</text>
<line x1="263.00" y1="242.69" x2="266.00" y2="242.69" stroke="#000" stroke-width="0.7"/>
<text x="260.40" y="246.29" class="tk" text-anchor="end">0.6</text>
<line x1="263.00" y1="216.04" x2="266.00" y2="216.04" stroke="#000" stroke-width="0.7"/>
<text x="260.40" y="219.64" class="tk" text-anchor="end">0.8</text>
<line x1="263.00" y1="189.40" x2="266.00" y2="189.40" stroke="#000" stroke-width="0.7"/>
<text x="260.40" y="193.00" class="tk" text-anchor="end">1.0</text>
<text x="340.85" y="331.00" class="ql" text-anchor="middle">q</text>
<text transform="translate(242.40,249.35) rotate(-90)" class="yl" text-anchor="middle">Δ<tspan class="it">S</tspan>( = Δ<tspan class="it">T</tspan>)</text>
<text x="340.85" y="184.30" class="ti" text-anchor="middle">BR</text>
<text x="266.30" y="184.40" class="lt">e</text>
<text x="280.9" y="239.5" class="an" text-anchor="start" textLength="77.0" lengthAdjust="spacing">no synchronization</text>
<text x="413.7" y="296.6" class="an" text-anchor="end" textLength="50.2" lengthAdjust="spacing">coordination</text>
<text x="413.7" y="305.6" class="an" text-anchor="end" textLength="63.6" lengthAdjust="spacing">on any strategy</text>
<text transform="translate(401.3,257.3) rotate(-90)" class="sm" text-anchor="start" textLength="66.0" lengthAdjust="spacing">synchronized layers,</text>
<text transform="translate(408.5,257.3) rotate(-90)" class="sm" text-anchor="start" textLength="63.0" lengthAdjust="spacing">but no coordination</text>
<rect x="412.9" y="191.30" width="2.1" height="1.2" fill="#1f968b"/>
<rect x="412.9" y="194.50" width="2.1" height="1.2" fill="#1f968b"/>
<rect x="412.9" y="204.64" width="2.1" height="1.2" fill="#1f968b"/>
<rect x="412.9" y="207.84" width="2.1" height="1.2" fill="#1f968b"/>
<rect x="412.9" y="217.98" width="2.1" height="1.2" fill="#1f968b"/>
<rect x="412.9" y="221.18" width="2.1" height="1.2" fill="#1f968b"/>
<rect x="412.9" y="231.32" width="2.1" height="1.2" fill="#1f968b"/>
<rect x="412.9" y="234.52" width="2.1" height="1.2" fill="#1f968b"/>
<rect x="412.9" y="244.66" width="2.1" height="1.2" fill="#1f968b"/>
<rect x="412.9" y="247.86" width="2.1" height="1.2" fill="#1f968b"/>
<rect x="424.60" y="189.40" width="6.9" height="119.90" fill="url(#vg)" stroke="#000" stroke-width="0.7"/>
<line x1="431.50" y1="309.30" x2="434.10" y2="309.30" stroke="#000" stroke-width="0.7"/>
<text x="436.80" y="313.00" class="tk">0.0</text>
<line x1="431.50" y1="285.32" x2="434.10" y2="285.32" stroke="#000" stroke-width="0.7"/>
<text x="436.80" y="289.02" class="tk">0.2</text>
<line x1="431.50" y1="261.34" x2="434.10" y2="261.34" stroke="#000" stroke-width="0.7"/>
<text x="436.80" y="265.04" class="tk">0.4</text>
<line x1="431.50" y1="237.36" x2="434.10" y2="237.36" stroke="#000" stroke-width="0.7"/>
<text x="436.80" y="241.06" class="tk">0.6</text>
<line x1="431.50" y1="213.38" x2="434.10" y2="213.38" stroke="#000" stroke-width="0.7"/>
<text x="436.80" y="217.08" class="tk">0.8</text>
<line x1="431.50" y1="189.40" x2="434.10" y2="189.40" stroke="#000" stroke-width="0.7"/>
<text x="436.80" y="193.10" class="tk">1.0</text>
</g>
<g>
<rect x="501.50" y="189.40" width="149.70" height="119.90" fill="#dda0dd"/>
<rect x="506.49" y="189.40" width="5.59" height="12.59" fill="#fde725"/>
<rect x="511.48" y="189.40" width="5.59" height="12.59" fill="#fde725"/>
<rect x="516.47" y="189.40" width="5.59" height="12.59" fill="#f8e621"/>
<rect x="521.46" y="189.40" width="5.59" height="12.59" fill="#fde725"/>
<rect x="526.45" y="189.40" width="5.59" height="12.59" fill="#fde725"/>
<rect x="531.44" y="189.40" width="5.59" height="12.59" fill="#fde725"/>
<rect x="536.43" y="189.40" width="5.59" height="12.59" fill="#f8e621"/>
<rect x="541.42" y="189.40" width="5.59" height="12.59" fill="#fde725"/>
<rect x="546.41" y="189.40" width="5.59" height="12.59" fill="#fde725"/>
<rect x="551.40" y="189.40" width="5.59" height="12.59" fill="#fde725"/>
<rect x="556.39" y="189.40" width="5.59" height="12.59" fill="#f8e621"/>
<rect x="561.38" y="189.40" width="5.59" height="12.59" fill="#fde725"/>
<rect x="566.37" y="189.40" width="5.59" height="12.59" fill="#fde725"/>
<rect x="571.36" y="189.40" width="5.59" height="12.59" fill="#f8e621"/>
<rect x="576.35" y="189.40" width="5.59" height="12.59" fill="#f8e621"/>
<rect x="581.34" y="189.40" width="5.59" height="12.59" fill="#f8e621"/>
<rect x="586.33" y="189.40" width="5.59" height="12.59" fill="#f8e621"/>
<rect x="591.32" y="189.40" width="5.59" height="12.59" fill="#ece51b"/>
<rect x="596.31" y="189.40" width="5.59" height="12.59" fill="#ece51b"/>
<rect x="601.30" y="189.40" width="5.59" height="12.59" fill="#e5e419"/>
<rect x="606.29" y="189.40" width="5.59" height="12.59" fill="#dfe318"/>
<rect x="611.28" y="189.40" width="5.59" height="12.59" fill="#f8e621"/>
<rect x="616.27" y="189.40" width="5.59" height="12.59" fill="#dfe318"/>
<rect x="621.26" y="189.40" width="5.59" height="12.59" fill="#d8e219"/>
<rect x="626.25" y="189.40" width="5.59" height="12.59" fill="#a2da37"/>
<rect x="631.24" y="189.40" width="5.59" height="12.59" fill="#cae11f"/>
<rect x="636.23" y="189.40" width="5.59" height="12.59" fill="#7ad151"/>
<rect x="641.22" y="189.40" width="5.59" height="12.59" fill="#1f958b"/>
<rect x="646.21" y="189.40" width="4.99" height="12.59" fill="#46085c"/>
<rect x="506.49" y="201.39" width="5.59" height="12.59" fill="#fde725"/>
<rect x="511.48" y="201.39" width="5.59" height="12.59" fill="#f8e621"/>
<rect x="516.47" y="201.39" width="5.59" height="12.59" fill="#fde725"/>
<rect x="521.46" y="201.39" width="5.59" height="12.59" fill="#fde725"/>
<rect x="526.45" y="201.39" width="5.59" height="12.59" fill="#fde725"/>
<rect x="531.44" y="201.39" width="5.59" height="12.59" fill="#f8e621"/>
<rect x="536.43" y="201.39" width="5.59" height="12.59" fill="#fde725"/>
<rect x="541.42" y="201.39" width="5.59" height="12.59" fill="#fde725"/>
<rect x="546.41" y="201.39" width="5.59" height="12.59" fill="#f8e621"/>
<rect x="551.40" y="201.39" width="5.59" height="12.59" fill="#fde725"/>
<rect x="556.39" y="201.39" width="5.59" height="12.59" fill="#fde725"/>
<rect x="561.38" y="201.39" width="5.59" height="12.59" fill="#fde725"/>
<rect x="566.37" y="201.39" width="5.59" height="12.59" fill="#f8e621"/>
<rect x="571.36" y="201.39" width="5.59" height="12.59" fill="#fde725"/>
<rect x="576.35" y="201.39" width="5.59" height="12.59" fill="#f8e621"/>
<rect x="581.34" y="201.39" width="5.59" height="12.59" fill="#f8e621"/>
<rect x="586.33" y="201.39" width="5.59" height="12.59" fill="#f8e621"/>
<rect x="591.32" y="201.39" width="5.59" height="12.59" fill="#f8e621"/>
<rect x="596.31" y="201.39" width="5.59" height="12.59" fill="#e5e419"/>
<rect x="601.30" y="201.39" width="5.59" height="12.59" fill="#dfe318"/>
<rect x="606.29" y="201.39" width="5.59" height="12.59" fill="#dfe318"/>
<rect x="611.28" y="201.39" width="5.59" height="12.59" fill="#dfe318"/>
<rect x="616.27" y="201.39" width="5.59" height="12.59" fill="#f1e51d"/>
<rect x="621.26" y="201.39" width="5.59" height="12.59" fill="#dfe318"/>
<rect x="626.25" y="201.39" width="5.59" height="12.59" fill="#b0dd2f"/>
<rect x="631.24" y="201.39" width="5.59" height="12.59" fill="#a2da37"/>
<rect x="636.23" y="201.39" width="5.59" height="12.59" fill="#44bf70"/>
<rect x="641.22" y="201.39" width="5.59" height="12.59" fill="#1e9c89"/>
<rect x="646.21" y="201.39" width="4.99" height="12.59" fill="#463480"/>
<rect x="506.49" y="213.38" width="5.59" height="12.59" fill="#fde725"/>
<rect x="511.48" y="213.38" width="5.59" height="12.59" fill="#fde725"/>
<rect x="516.47" y="213.38" width="5.59" height="12.59" fill="#fde725"/>
<rect x="521.46" y="213.38" width="5.59" height="12.59" fill="#f8e621"/>
<rect x="526.45" y="213.38" width="5.59" height="12.59" fill="#fde725"/>
<rect x="531.44" y="213.38" width="5.59" height="12.59" fill="#fde725"/>
<rect x="536.43" y="213.38" width="5.59" height="12.59" fill="#fde725"/>
<rect x="541.42" y="213.38" width="5.59" height="12.59" fill="#fde725"/>
<rect x="546.41" y="213.38" width="5.59" height="12.59" fill="#fde725"/>
<rect x="551.40" y="213.38" width="5.59" height="12.59" fill="#f8e621"/>
<rect x="556.39" y="213.38" width="5.59" height="12.59" fill="#fde725"/>
<rect x="561.38" y="213.38" width="5.59" height="12.59" fill="#fde725"/>
<rect x="566.37" y="213.38" width="5.59" height="12.59" fill="#fde725"/>
<rect x="571.36" y="213.38" width="5.59" height="12.59" fill="#f8e621"/>
<rect x="576.35" y="213.38" width="5.59" height="12.59" fill="#f8e621"/>
<rect x="581.34" y="213.38" width="5.59" height="12.59" fill="#f8e621"/>
<rect x="586.33" y="213.38" width="5.59" height="12.59" fill="#f8e621"/>
<rect x="591.32" y="213.38" width="5.59" height="12.59" fill="#f8e621"/>
<rect x="596.31" y="213.38" width="5.59" height="12.59" fill="#f8e621"/>
<rect x="601.30" y="213.38" width="5.59" height="12.59" fill="#fde725"/>
<rect x="606.29" y="213.38" width="5.59" height="12.59" fill="#dfe318"/>
<rect x="611.28" y="213.38" width="5.59" height="12.59" fill="#f1e51d"/>
<rect x="616.27" y="213.38" width="5.59" height="12.59" fill="#dfe318"/>
<rect x="621.26" y="213.38" width="5.59" height="12.59" fill="#d8e219"/>
<rect x="626.25" y="213.38" width="5.59" height="12.59" fill="#d2e21b"/>
<rect x="631.24" y="213.38" width="5.59" height="12.59" fill="#63cb5f"/>
<rect x="636.23" y="213.38" width="5.59" height="12.59" fill="#22a884"/>
<rect x="641.22" y="213.38" width="5.59" height="12.59" fill="#26ad81"/>
<rect x="646.21" y="213.38" width="4.99" height="12.59" fill="#3b528b"/>
<rect x="506.49" y="225.37" width="5.59" height="12.59" fill="#fde725"/>
<rect x="511.48" y="225.37" width="5.59" height="12.59" fill="#fde725"/>
<rect x="516.47" y="225.37" width="5.59" height="12.59" fill="#f8e621"/>
<rect x="521.46" y="225.37" width="5.59" height="12.59" fill="#fde725"/>
<rect x="526.45" y="225.37" width="5.59" height="12.59" fill="#fde725"/>
<rect x="531.44" y="225.37" width="5.59" height="12.59" fill="#fde725"/>
<rect x="536.43" y="225.37" width="5.59" height="12.59" fill="#f8e621"/>
<rect x="541.42" y="225.37" width="5.59" height="12.59" fill="#fde725"/>
<rect x="546.41" y="225.37" width="5.59" height="12.59" fill="#fde725"/>
<rect x="551.40" y="225.37" width="5.59" height="12.59" fill="#fde725"/>
<rect x="556.39" y="225.37" width="5.59" height="12.59" fill="#fde725"/>
<rect x="561.38" y="225.37" width="5.59" height="12.59" fill="#f8e621"/>
<rect x="566.37" y="225.37" width="5.59" height="12.59" fill="#fde725"/>
<rect x="571.36" y="225.37" width="5.59" height="12.59" fill="#fde725"/>
<rect x="576.35" y="225.37" width="5.59" height="12.59" fill="#f8e621"/>
<rect x="581.34" y="225.37" width="5.59" height="12.59" fill="#f8e621"/>
<rect x="586.33" y="225.37" width="5.59" height="12.59" fill="#f8e621"/>
<rect x="591.32" y="225.37" width="5.59" height="12.59" fill="#f8e621"/>
<rect x="596.31" y="225.37" width="5.59" height="12.59" fill="#f8e621"/>
<rect x="601.30" y="225.37" width="5.59" height="12.59" fill="#e5e419"/>
<rect x="606.29" y="225.37" width="5.59" height="12.59" fill="#dfe318"/>
<rect x="611.28" y="225.37" width="5.59" height="12.59" fill="#e5e419"/>
<rect x="616.27" y="225.37" width="5.59" height="12.59" fill="#d2e21b"/>
<rect x="621.26" y="225.37" width="5.59" height="12.59" fill="#cae11f"/>
<rect x="626.25" y="225.37" width="5.59" height="12.59" fill="#b0dd2f"/>
<rect x="631.24" y="225.37" width="5.59" height="12.59" fill="#86d549"/>
<rect x="636.23" y="225.37" width="5.59" height="12.59" fill="#58c765"/>
<rect x="641.22" y="225.37" width="5.59" height="12.59" fill="#22a884"/>
<rect x="646.21" y="225.37" width="4.99" height="12.59" fill="#355f8d"/>
<rect x="506.49" y="237.36" width="5.59" height="12.59" fill="#fde725"/>
<rect x="511.48" y="237.36" width="5.59" height="12.59" fill="#f8e621"/>
<rect x="516.47" y="237.36" width="5.59" height="12.59" fill="#fde725"/>
<rect x="521.46" y="237.36" width="5.59" height="12.59" fill="#fde725"/>
<rect x="526.45" y="237.36" width="5.59" height="12.59" fill="#f8e621"/>
<rect x="531.44" y="237.36" width="5.59" height="12.59" fill="#fde725"/>
<rect x="536.43" y="237.36" width="5.59" height="12.59" fill="#fde725"/>
<rect x="541.42" y="237.36" width="5.59" height="12.59" fill="#fde725"/>
<rect x="546.41" y="237.36" width="5.59" height="12.59" fill="#f8e621"/>
<rect x="551.40" y="237.36" width="5.59" height="12.59" fill="#fde725"/>
<rect x="556.39" y="237.36" width="5.59" height="12.59" fill="#fde725"/>
<rect x="561.38" y="237.36" width="5.59" height="12.59" fill="#fde725"/>
<rect x="566.37" y="237.36" width="5.59" height="12.59" fill="#f8e621"/>
<rect x="571.36" y="237.36" width="5.59" height="12.59" fill="#fde725"/>
<rect x="576.35" y="237.36" width="5.59" height="12.59" fill="#f1e51d"/>
<rect x="581.34" y="237.36" width="5.59" height="12.59" fill="#f1e51d"/>
<rect x="586.33" y="237.36" width="5.59" height="12.59" fill="#ece51b"/>
<rect x="591.32" y="237.36" width="5.59" height="12.59" fill="#ece51b"/>
<rect x="596.31" y="237.36" width="5.59" height="12.59" fill="#f1e51d"/>
<rect x="601.30" y="237.36" width="5.59" height="12.59" fill="#f1e51d"/>
<rect x="606.29" y="237.36" width="5.59" height="12.59" fill="#f1e51d"/>
<rect x="611.28" y="237.36" width="5.59" height="12.59" fill="#f1e51d"/>
<rect x="616.27" y="237.36" width="5.59" height="12.59" fill="#ece51b"/>
<rect x="621.26" y="237.36" width="5.59" height="12.59" fill="#e5e419"/>
<rect x="626.25" y="237.36" width="5.59" height="12.59" fill="#58c765"/>
<rect x="631.24" y="237.36" width="5.59" height="12.59" fill="#63cb5f"/>
<rect x="636.23" y="237.36" width="5.59" height="12.59" fill="#4ec36b"/>
<rect x="641.22" y="237.36" width="5.59" height="12.59" fill="#1f958b"/>
<rect x="646.21" y="237.36" width="4.99" height="12.59" fill="#32648e"/>
<rect x="506.49" y="249.35" width="5.59" height="12.59" fill="#fde725"/>
<rect x="511.48" y="249.35" width="5.59" height="12.59" fill="#fde725"/>
<rect x="516.47" y="249.35" width="5.59" height="12.59" fill="#fde725"/>
<rect x="521.46" y="249.35" width="5.59" height="12.59" fill="#f8e621"/>
<rect x="526.45" y="249.35" width="5.59" height="12.59" fill="#fde725"/>
<rect x="531.44" y="249.35" width="5.59" height="12.59" fill="#fde725"/>
<rect x="536.43" y="249.35" width="5.59" height="12.59" fill="#f8e621"/>
<rect x="541.42" y="249.35" width="5.59" height="12.59" fill="#fde725"/>
<rect x="546.41" y="249.35" width="5.59" height="12.59" fill="#fde725"/>
<rect x="551.40" y="249.35" width="5.59" height="12.59" fill="#fde725"/>
<rect x="556.39" y="249.35" width="5.59" height="12.59" fill="#f8e621"/>
<rect x="561.38" y="249.35" width="5.59" height="12.59" fill="#fde725"/>
<rect x="566.37" y="249.35" width="5.59" height="12.59" fill="#fde725"/>
<rect x="571.36" y="249.35" width="5.59" height="12.59" fill="#f8e621"/>
<rect x="576.35" y="249.35" width="5.59" height="12.59" fill="#f1e51d"/>
<rect x="581.34" y="249.35" width="5.59" height="12.59" fill="#f1e51d"/>
<rect x="586.33" y="249.35" width="5.59" height="12.59" fill="#f8e621"/>
<rect x="591.32" y="249.35" width="5.59" height="12.59" fill="#ece51b"/>
<rect x="596.31" y="249.35" width="5.59" height="12.59" fill="#f8e621"/>
<rect x="601.30" y="249.35" width="5.59" height="12.59" fill="#e5e419"/>
<rect x="606.29" y="249.35" width="5.59" height="12.59" fill="#e5e419"/>
<rect x="611.28" y="249.35" width="5.59" height="12.59" fill="#d2e21b"/>
<rect x="616.27" y="249.35" width="5.59" height="12.59" fill="#b0dd2f"/>
<rect x="621.26" y="249.35" width="5.59" height="12.59" fill="#b0dd2f"/>
<rect x="626.25" y="249.35" width="5.59" height="12.59" fill="#6ece58"/>
<rect x="631.24" y="249.35" width="5.59" height="12.59" fill="#44bf70"/>
<rect x="636.23" y="249.35" width="5.59" height="12.59" fill="#3bbb75"/>
<rect x="641.22" y="249.35" width="5.59" height="12.59" fill="#1f9f88"/>
<rect x="646.21" y="249.35" width="4.99" height="12.59" fill="#21918c"/>
<rect x="506.49" y="261.34" width="5.59" height="12.59" fill="#fde725"/>
<rect x="511.48" y="261.34" width="5.59" height="12.59" fill="#fde725"/>
<rect x="516.47" y="261.34" width="5.59" height="12.59" fill="#f8e621"/>
<rect x="521.46" y="261.34" width="5.59" height="12.59" fill="#fde725"/>
<rect x="526.45" y="261.34" width="5.59" height="12.59" fill="#fde725"/>
<rect x="531.44" y="261.34" width="5.59" height="12.59" fill="#fde725"/>
<rect x="536.43" y="261.34" width="5.59" height="12.59" fill="#fde725"/>
<rect x="541.42" y="261.34" width="5.59" height="12.59" fill="#f8e621"/>
<rect x="546.41" y="261.34" width="5.59" height="12.59" fill="#fde725"/>
<rect x="551.40" y="261.34" width="5.59" height="12.59" fill="#fde725"/>
<rect x="556.39" y="261.34" width="5.59" height="12.59" fill="#fde725"/>
<rect x="561.38" y="261.34" width="5.59" height="12.59" fill="#f8e621"/>
<rect x="566.37" y="261.34" width="5.59" height="12.59" fill="#fde725"/>
<rect x="571.36" y="261.34" width="5.59" height="12.59" fill="#fde725"/>
<rect x="576.35" y="261.34" width="5.59" height="12.59" fill="#f8e621"/>
<rect x="581.34" y="261.34" width="5.59" height="12.59" fill="#f8e621"/>
<rect x="586.33" y="261.34" width="5.59" height="12.59" fill="#f8e621"/>
<rect x="591.32" y="261.34" width="5.59" height="12.59" fill="#f8e621"/>
<rect x="596.31" y="261.34" width="5.59" height="12.59" fill="#f8e621"/>
<rect x="601.30" y="261.34" width="5.59" height="12.59" fill="#ece51b"/>
<rect x="606.29" y="261.34" width="5.59" height="12.59" fill="#e5e419"/>
<rect x="611.28" y="261.34" width="5.59" height="12.59" fill="#d2e21b"/>
<rect x="616.27" y="261.34" width="5.59" height="12.59" fill="#bddf26"/>
<rect x="621.26" y="261.34" width="5.59" height="12.59" fill="#bddf26"/>
<rect x="626.25" y="261.34" width="5.59" height="12.59" fill="#a2da37"/>
<rect x="631.24" y="261.34" width="5.59" height="12.59" fill="#7ad151"/>
<rect x="636.23" y="261.34" width="5.59" height="12.59" fill="#1f9f88"/>
<rect x="641.22" y="261.34" width="5.59" height="12.59" fill="#1f958b"/>
<rect x="646.21" y="261.34" width="4.99" height="12.59" fill="#1f958b"/>
<rect x="506.49" y="273.33" width="5.59" height="12.59" fill="#fde725"/>
<rect x="511.48" y="273.33" width="5.59" height="12.59" fill="#f8e621"/>
<rect x="516.47" y="273.33" width="5.59" height="12.59" fill="#fde725"/>
<rect x="521.46" y="273.33" width="5.59" height="12.59" fill="#fde725"/>
<rect x="526.45" y="273.33" width="5.59" height="12.59" fill="#fde725"/>
<rect x="531.44" y="273.33" width="5.59" height="12.59" fill="#f8e621"/>
<rect x="536.43" y="273.33" width="5.59" height="12.59" fill="#fde725"/>
<rect x="541.42" y="273.33" width="5.59" height="12.59" fill="#fde725"/>
<rect x="546.41" y="273.33" width="5.59" height="12.59" fill="#fde725"/>
<rect x="551.40" y="273.33" width="5.59" height="12.59" fill="#f8e621"/>
<rect x="556.39" y="273.33" width="5.59" height="12.59" fill="#fde725"/>
<rect x="561.38" y="273.33" width="5.59" height="12.59" fill="#fde725"/>
<rect x="566.37" y="273.33" width="5.59" height="12.59" fill="#f1e51d"/>
<rect x="571.36" y="273.33" width="5.59" height="12.59" fill="#fde725"/>
<rect x="576.35" y="273.33" width="5.59" height="12.59" fill="#f8e621"/>
<rect x="581.34" y="273.33" width="5.59" height="12.59" fill="#f8e621"/>
<rect x="586.33" y="273.33" width="5.59" height="12.59" fill="#f8e621"/>
<rect x="591.32" y="273.33" width="5.59" height="12.59" fill="#f8e621"/>
<rect x="596.31" y="273.33" width="5.59" height="12.59" fill="#ece51b"/>
<rect x="601.30" y="273.33" width="5.59" height="12.59" fill="#d2e21b"/>
<rect x="606.29" y="273.33" width="5.59" height="12.59" fill="#dfe318"/>
<rect x="611.28" y="273.33" width="5.59" height="12.59" fill="#d8e219"/>
<rect x="616.27" y="273.33" width="5.59" height="12.59" fill="#cae11f"/>
<rect x="621.26" y="273.33" width="5.59" height="12.59" fill="#bddf26"/>
<rect x="626.25" y="273.33" width="5.59" height="12.59" fill="#95d840"/>
<rect x="631.24" y="273.33" width="5.59" height="12.59" fill="#6ece58"/>
<rect x="636.23" y="273.33" width="5.59" height="12.59" fill="#21918c"/>
<rect x="641.22" y="273.33" width="5.59" height="12.59" fill="#287d8e"/>
<rect x="646.21" y="273.33" width="4.99" height="12.59" fill="#21918c"/>
<rect x="506.49" y="285.32" width="5.59" height="12.59" fill="#fde725"/>
<rect x="511.48" y="285.32" width="5.59" height="12.59" fill="#fde725"/>
<rect x="516.47" y="285.32" width="5.59" height="12.59" fill="#fde725"/>
<rect x="521.46" y="285.32" width="5.59" height="12.59" fill="#f8e621"/>
<rect x="526.45" y="285.32" width="5.59" height="12.59" fill="#fde725"/>
<rect x="531.44" y="285.32" width="5.59" height="12.59" fill="#fde725"/>
<rect x="536.43" y="285.32" width="5.59" height="12.59" fill="#fde725"/>
<rect x="541.42" y="285.32" width="5.59" height="12.59" fill="#f8e621"/>
<rect x="546.41" y="285.32" width="5.59" height="12.59" fill="#fde725"/>
<rect x="551.40" y="285.32" width="5.59" height="12.59" fill="#fde725"/>
<rect x="556.39" y="285.32" width="5.59" height="12.59" fill="#f1e51d"/>
<rect x="561.38" y="285.32" width="5.59" height="12.59" fill="#fde725"/>
<rect x="566.37" y="285.32" width="5.59" height="12.59" fill="#fde725"/>
<rect x="571.36" y="285.32" width="5.59" height="12.59" fill="#f8e621"/>
<rect x="576.35" y="285.32" width="5.59" height="12.59" fill="#f8e621"/>
<rect x="581.34" y="285.32" width="5.59" height="12.59" fill="#f8e621"/>
<rect x="586.33" y="285.32" width="5.59" height="12.59" fill="#f1e51d"/>
<rect x="591.32" y="285.32" width="5.59" height="12.59" fill="#ece51b"/>
<rect x="596.31" y="285.32" width="5.59" height="12.59" fill="#ece51b"/>
<rect x="601.30" y="285.32" width="5.59" height="12.59" fill="#e5e419"/>
<rect x="606.29" y="285.32" width="5.59" height="12.59" fill="#d2e21b"/>
<rect x="611.28" y="285.32" width="5.59" height="12.59" fill="#bddf26"/>
<rect x="616.27" y="285.32" width="5.59" height="12.59" fill="#cae11f"/>
<rect x="621.26" y="285.32" width="5.59" height="12.59" fill="#bddf26"/>
<rect x="626.25" y="285.32" width="5.59" height="12.59" fill="#95d840"/>
<rect x="631.24" y="285.32" width="5.59" height="12.59" fill="#4ec36b"/>
<rect x="636.23" y="285.32" width="5.59" height="12.59" fill="#24868e"/>
<rect x="641.22" y="285.32" width="5.59" height="12.59" fill="#287d8e"/>
<rect x="646.21" y="285.32" width="4.99" height="12.59" fill="#228b8d"/>
<rect x="506.49" y="297.31" width="5.59" height="11.99" fill="#f8e621"/>
<rect x="511.48" y="297.31" width="5.59" height="11.99" fill="#ece51b"/>
<rect x="516.47" y="297.31" width="5.59" height="11.99" fill="#fde725"/>
<rect x="521.46" y="297.31" width="5.59" height="11.99" fill="#f1e51d"/>
<rect x="526.45" y="297.31" width="5.59" height="11.99" fill="#fde725"/>
<rect x="531.44" y="297.31" width="5.59" height="11.99" fill="#ece51b"/>
<rect x="536.43" y="297.31" width="5.59" height="11.99" fill="#fde725"/>
<rect x="541.42" y="297.31" width="5.59" height="11.99" fill="#f1e51d"/>
<rect x="546.41" y="297.31" width="5.59" height="11.99" fill="#ece51b"/>
<rect x="551.40" y="297.31" width="5.59" height="11.99" fill="#fde725"/>
<rect x="556.39" y="297.31" width="5.59" height="11.99" fill="#f1e51d"/>
<rect x="561.38" y="297.31" width="5.59" height="11.99" fill="#ece51b"/>
<rect x="566.37" y="297.31" width="5.59" height="11.99" fill="#fde725"/>
<rect x="571.36" y="297.31" width="5.59" height="11.99" fill="#f1e51d"/>
<rect x="576.35" y="297.31" width="5.59" height="11.99" fill="#f8e621"/>
<rect x="581.34" y="297.31" width="5.59" height="11.99" fill="#ece51b"/>
<rect x="586.33" y="297.31" width="5.59" height="11.99" fill="#ece51b"/>
<rect x="591.32" y="297.31" width="5.59" height="11.99" fill="#dfe318"/>
<rect x="596.31" y="297.31" width="5.59" height="11.99" fill="#d2e21b"/>
<rect x="601.30" y="297.31" width="5.59" height="11.99" fill="#cae11f"/>
<rect x="606.29" y="297.31" width="5.59" height="11.99" fill="#bddf26"/>
<rect x="611.28" y="297.31" width="5.59" height="11.99" fill="#b0dd2f"/>
<rect x="616.27" y="297.31" width="5.59" height="11.99" fill="#bddf26"/>
<rect x="621.26" y="297.31" width="5.59" height="11.99" fill="#a2da37"/>
<rect x="626.25" y="297.31" width="5.59" height="11.99" fill="#7ad151"/>
<rect x="631.24" y="297.31" width="5.59" height="11.99" fill="#32b67a"/>
<rect x="636.23" y="297.31" width="5.59" height="11.99" fill="#20a386"/>
<rect x="641.22" y="297.31" width="5.59" height="11.99" fill="#1f9a8a"/>
<rect x="646.21" y="297.31" width="4.99" height="11.99" fill="#1f9f88"/>
<clipPath id="clip5"><rect x="501.50" y="189.40" width="149.70" height="119.90"/></clipPath>
<polyline points="506.5,310.0 506.5,189.0" fill="none" stroke="#000" stroke-width="1.4" stroke-linejoin="round" clip-path="url(#clip5)"/>
<polyline points="599.0,309.3 604.0,296.0 609.5,282.7 610.0,269.3 614.5,256.0 620.0,242.7 609.7,229.4 620.5,216.0 625.6,202.7 620.4,189.4" fill="none" stroke="#000" stroke-width="1.4" stroke-dasharray="4.8 2.1" stroke-linejoin="round" clip-path="url(#clip5)"/>
<rect x="501.50" y="189.40" width="149.70" height="119.90" fill="none" stroke="#000" stroke-width="0.7"/>
<line x1="501.50" y1="309.30" x2="501.50" y2="312.30" stroke="#000" stroke-width="0.7"/>
<text x="501.50" y="320.90" class="tk" text-anchor="middle">0.0</text>
<line x1="531.44" y1="309.30" x2="531.44" y2="312.30" stroke="#000" stroke-width="0.7"/>
<text x="531.44" y="320.90" class="tk" text-anchor="middle">0.2</text>
<line x1="561.38" y1="309.30" x2="561.38" y2="312.30" stroke="#000" stroke-width="0.7"/>
<text x="561.38" y="320.90" class="tk" text-anchor="middle">0.4</text>
<line x1="591.32" y1="309.30" x2="591.32" y2="312.30" stroke="#000" stroke-width="0.7"/>
<text x="591.32" y="320.90" class="tk" text-anchor="middle">0.6</text>
<line x1="621.26" y1="309.30" x2="621.26" y2="312.30" stroke="#000" stroke-width="0.7"/>
<text x="621.26" y="320.90" class="tk" text-anchor="middle">0.8</text>
<line x1="651.20" y1="309.30" x2="651.20" y2="312.30" stroke="#000" stroke-width="0.7"/>
<text x="651.20" y="320.90" class="tk" text-anchor="middle">1.0</text>
<line x1="498.50" y1="295.98" x2="501.50" y2="295.98" stroke="#000" stroke-width="0.7"/>
<text x="495.90" y="299.58" class="tk" text-anchor="end">0.2</text>
<line x1="498.50" y1="269.33" x2="501.50" y2="269.33" stroke="#000" stroke-width="0.7"/>
<text x="495.90" y="272.93" class="tk" text-anchor="end">0.4</text>
<line x1="498.50" y1="242.69" x2="501.50" y2="242.69" stroke="#000" stroke-width="0.7"/>
<text x="495.90" y="246.29" class="tk" text-anchor="end">0.6</text>
<line x1="498.50" y1="216.04" x2="501.50" y2="216.04" stroke="#000" stroke-width="0.7"/>
<text x="495.90" y="219.64" class="tk" text-anchor="end">0.8</text>
<line x1="498.50" y1="189.40" x2="501.50" y2="189.40" stroke="#000" stroke-width="0.7"/>
<text x="495.90" y="193.00" class="tk" text-anchor="end">1.0</text>
<text x="576.35" y="331.00" class="ql" text-anchor="middle">q</text>
<text transform="translate(477.90,249.35) rotate(-90)" class="yl" text-anchor="middle">Δ<tspan class="it">S</tspan>( = Δ<tspan class="it">T</tspan>)</text>
<text x="576.35" y="184.30" class="ti" text-anchor="middle">UI</text>
<text x="501.80" y="184.40" class="lt">f</text>
<text x="524.9" y="248.9" class="an" text-anchor="start" textLength="59.4" lengthAdjust="spacing">Pareto-optimal</text>
<text transform="translate(632.0,291.4) rotate(-90)" class="an" text-anchor="start" textLength="50.2" lengthAdjust="spacing">coordination</text>
<text transform="translate(640.7,291.4) rotate(-90)" class="an" text-anchor="start" textLength="63.6" lengthAdjust="spacing">on any strategy</text>
<rect x="660.10" y="189.40" width="6.9" height="119.90" fill="url(#vg)" stroke="#000" stroke-width="0.7"/>
<line x1="667.00" y1="309.30" x2="669.60" y2="309.30" stroke="#000" stroke-width="0.7"/>
<text x="672.30" y="313.00" class="tk">0.0</text>
<line x1="667.00" y1="285.32" x2="669.60" y2="285.32" stroke="#000" stroke-width="0.7"/>
<text x="672.30" y="289.02" class="tk">0.2</text>
<line x1="667.00" y1="261.34" x2="669.60" y2="261.34" stroke="#000" stroke-width="0.7"/>
<text x="672.30" y="265.04" class="tk">0.4</text>
<line x1="667.00" y1="237.36" x2="669.60" y2="237.36" stroke="#000" stroke-width="0.7"/>
<text x="672.30" y="241.06" class="tk">0.6</text>
<line x1="667.00" y1="213.38" x2="669.60" y2="213.38" stroke="#000" stroke-width="0.7"/>
<text x="672.30" y="217.08" class="tk">0.8</text>
<line x1="667.00" y1="189.40" x2="669.60" y2="189.40" stroke="#000" stroke-width="0.7"/>
<text x="672.30" y="193.10" class="tk">1.0</text>
</g>
</svg>
</body></html>
